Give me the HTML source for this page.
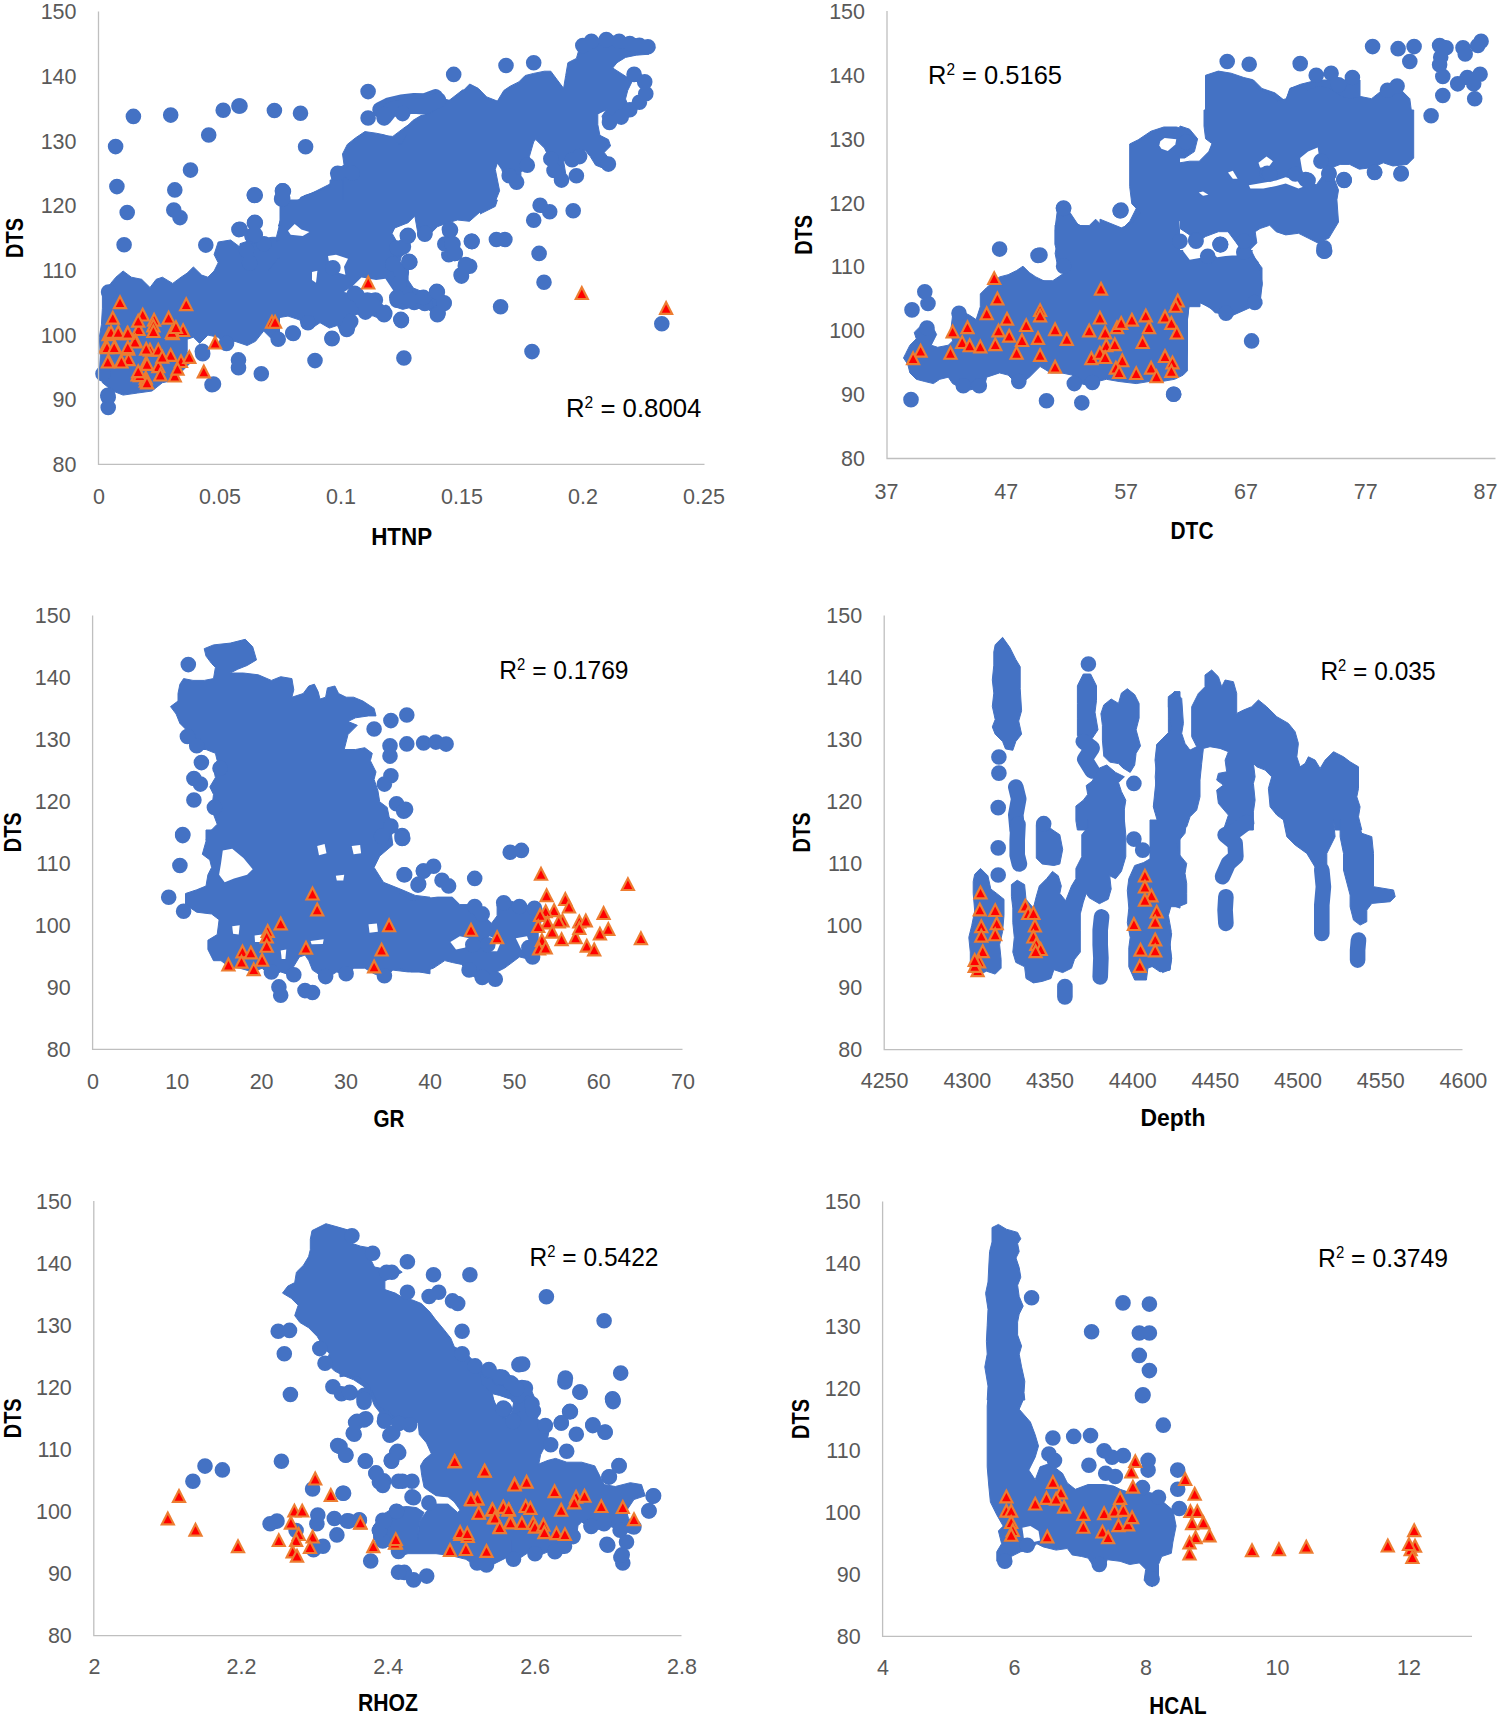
<!DOCTYPE html>
<html><head><meta charset="utf-8"><style>
html,body{margin:0;padding:0;background:#fff;}
svg{display:block;}
.t{font-family:"Liberation Sans",sans-serif;font-size:21.5px;fill:#595959;}
.b{font-family:"Liberation Sans",sans-serif;font-size:23px;font-weight:bold;fill:#000;}
.r{font-family:"Liberation Sans",sans-serif;font-size:26.5px;fill:#000;}
.sup{font-size:16px;}
</style></head><body>
<svg width="1499" height="1716" viewBox="0 0 1499 1716">
<rect width="1499" height="1716" fill="#fff"/>
<path d="M380 135.3L392.8 136.4L405.6 126.7L422.7 117.1L435.5 105.4L444 99L452.6 101.1L463.3 90.5L469.7 84L478.2 88.3L486.7 96.9L497.4 101.1L503.8 90.5L510.2 86.2L518.8 81.9L525.2 75.5L533.7 73.4L544.4 71.2L550.8 71.2L557.2 79.8L563.6 88.3L565.7 75.5L567.9 62.7L576.4 58.4L580.7 43.5L587.1 39.2L595.6 41.3L604.2 37.1L610.6 34.9L621.2 39.2L636.2 41.3L649 43.5L655.4 47.8L649 54.2L636.2 55.2L625.5 57.4L617 62.7L612.7 68L621.2 73.4L627.7 77.6L631.9 81.9L627.7 90.5L625.5 99L629.8 109.7L627.7 118.2L617 122.5L610.6 126.7L604.2 124.6L602 116.1L606.3 109.7L597.8 113.9L597.8 124.6L599.9 135.3L608.4 139.6L610.6 146L604.2 152.4L610.6 160.9L606.3 169.4L595.6 165.2L590.3 156.6L585 150.2L580.7 158.8L572.1 160.9L563.6 160.9L565.7 173.7L565.7 182.3L559.3 184.4L550.8 173.7L546.5 160.9L546.5 152.4L544.4 148.1L535.8 139.6L533.7 141.7L529.4 156.6L531.6 165.2L527.3 169.4L520.9 171.6L520.9 182.3L512.4 184.4L503.8 175.8L501.7 169.4L497.4 163L495.3 169.4L499.6 190.8L495.3 201.5L488.9 207.9L478.2 212.1L471.8 220.7L459 222.8L452.6 225L446.2 233.5L444 260L380 260Z" fill="#4472C4" stroke="#4472C4" stroke-width="1" stroke-linejoin="round"/>
<path d="M380 109.7L388.5 105.4L401.3 102.2L414.2 100.7L424.8 101.1L435.5 96.9" fill="none" stroke="#4472C4" stroke-width="15.6" stroke-linecap="round" stroke-linejoin="round"/>
<path d="M102.4 292.7L110.7 283.4L115.9 277.2L123.1 271L131.4 277.2L141.7 279.3L150 287.5L156.2 279.3L162.4 277.2L172.7 283.4L181 277.2L187.2 273.1L193.4 266.9L201.7 275.1L207.9 277.2L214.1 271L218.2 262.7L214.1 254.5L218.2 242L230.6 240L238.9 246.2L245.1 246.2L251.3 240L261.7 242L269.9 240L278.2 242L282.3 231.7L280.3 221.4L288.6 211L296.8 200.7L329.9 184.1L332 180L400 180L400 295.8L389.9 312.4L379.6 306.2L367.1 302L356.8 295.8L348.5 304.1L350.6 324.8L346.5 333.1L334.1 324.8L317.5 322.7L305.1 324.8L296.8 333.1L282.3 341.3L272 339.3L263.7 331L255.5 341.3L247.2 345.5L234.8 341.3L226.5 347.5L218.2 337.2L207.9 335.1L199.6 343.4L193.4 337.2L187.2 339.3L187.2 351.7L191.3 362L181 372.3L172.7 380.6L162.4 382.7L152 391L137.6 393L123.1 395.1L112.8 391L102.4 382.7L99.3 372.3L100.3 355.8L99.3 337.2L101.4 324.8L102.4 308.2Z" fill="#4472C4" stroke="#4472C4" stroke-width="1" stroke-linejoin="round"/>
<path d="M286.4 227.7L278.4 226.1L283.2 211.7L288 206.9L297.6 202.1L304 195.7L315.2 192.5L326.5 189.3L332.9 186.1L331.3 176.5L337.7 168.5L344.1 165.2L342.5 154L347.3 144.4L355.3 138L364.9 131.6L376.1 133.2L384.1 134.8L393.7 138L398.5 144.4L401.7 144.4L406.5 134.8L406.5 126.8L412.9 120.4L420.9 115.6L428.9 114L436.9 109.2L441.7 102.8L448.1 101.2L462.5 90L480 90L480 211.7L472.1 219.7L462.5 221.3L454.5 218.1L446.5 214.9L438.5 219.7L435.3 229.3L427.3 238.9L417.7 234.1L414.5 216.5L409.7 221.3L398.5 227.7L392.1 232.5L388.9 238.9L396.9 242.1L403.3 248.5L400.1 254.9L393.7 259.7L396.9 270L364.9 270L363.3 256.5L352.1 258.1L342.5 270L329.7 270L326.5 256.5L320.1 254.9L307.2 253.3L288 253.3L278.4 258.1L268.8 270L240 270L240 243.7L249.6 240.5L256 243.7L262.4 238.9L272 237.3L281.6 237.3L289.6 235.7L292.8 230.9L300.8 230.9L308.8 232.5L310.4 229.3L297.6 222.9L291.2 221.3Z" fill="#4472C4" stroke="#4472C4" stroke-width="1" stroke-linejoin="round"/>
<path d="M384.1 117.9L390.5 109.9L400.1 107.5L412.9 105.9L424.1 106.7L432.1 102.6L438.5 100.2" fill="none" stroke="#4472C4" stroke-width="15.6" stroke-linecap="round" stroke-linejoin="round"/>
<path d="M380 200L497.4 200L495.3 206.4L482.5 212.8L469.7 219.2L456.9 221.3L444 221.3L437.6 227.8L431.2 236.3L422.7 238.4L416.3 227.8L407.8 227.8L397.1 229.9L392.8 238.4L388.5 249.1L380 270.5Z" fill="#4472C4" stroke="#4472C4" stroke-width="1" stroke-linejoin="round"/>
<path d="M446.2 225.6L450.5 236.3L453.7 249.1L456.9 259.8L465.4 266.2" fill="none" stroke="#4472C4" stroke-width="15.6" stroke-linecap="round" stroke-linejoin="round"/>
<path d="M380 264L392.8 264L401.3 272.6L399.2 283.3L401.3 293.9L397.1 300.3L414.2 302.5L424.8 303.5L444 303.5" fill="none" stroke="#4472C4" stroke-width="15.6" stroke-linecap="round" stroke-linejoin="round"/>
<path d="M300.7 330L303.4 321.4L316.7 318.8L335.4 321.4L348.7 313.4L356.7 313.4L356.7 330Z" fill="#4472C4" stroke="#4472C4" stroke-width="1" stroke-linejoin="round"/>
<path d="M276.7 236L280.7 220L284.7 209.4L296.7 205.4L300.7 197.3L312.7 192.7L330.1 187.3L330.1 180L343.4 180L343.4 220L276.7 241.4Z" fill="#4472C4" stroke="#4472C4" stroke-width="1" stroke-linejoin="round"/>
<path d="M415.4 218.7L418.1 234.7L424.8 240L435.5 237.4L440.8 224L450 224L450 296.1L439.5 289.4L430.1 286.7L420.8 292.1L410.1 284.1L407.4 270.7L398.1 265.4L402.1 254.7L403.4 246.7L392.8 238.7L394.1 230.7L402.1 228L410.1 217.4Z" fill="#fff"/>
<path d="M327.4 256.1L346.1 254.7L348.7 262.7L344.7 273.4L338.1 273.4L332.7 265.4Z" fill="#fff"/>
<path d="M343.4 292.1L354.1 286.7L363.4 277.4L376.8 280.1L390.1 285.4L394.1 293.4L388.8 304.1L380.8 306.8L370.1 297.4L356.7 294.7Z" fill="#fff"/>
<path d="M288.7 224L294 221.4L300.7 229.4L308.7 232L306 236L294 236L288.7 234.7Z" fill="#fff"/>
<path d="M280 200L480 200L480 350L280 350Z" fill="#fff"/>
<path d="M280 200L480 200L480 212L469.5 221.3L457.5 220L448.1 222.7L437.4 226.7L426.8 237.4L417.4 230.7L414.8 216L408.1 222.7L394.7 228L392.1 233.4L397.4 242.7L402.7 250.7L400.1 261.4L408.1 269.4L408.1 280.1L413.4 288.1L426.8 293.4L437.4 290.7L445.4 296.1L449.4 304.1L444.1 312.1L437.4 318.7L432.1 312.1L424.1 306.7L413.4 306.7L402.7 309.4L394.7 306.7L389.4 301.4L393.4 290.7L385.4 281.4L377.4 282.7L381.4 293.4L378.7 301.4L389.4 306.7L390.7 314.7L384.1 320.1L373.4 316.1L362.7 313.4L354.7 314.7L356.1 322.7L353.4 333.4L346.7 336.1L340 330.8L337.4 325.4L329.4 328.1L320 322.7L312 328.1L302.7 328.1L300 320.1L288 316.1L280 317.4Z" fill="#4472C4" stroke="#4472C4" stroke-width="1" stroke-linejoin="round"/>
<path d="M344 292.1L352 286.7L361.4 277.4L376.1 280.1L385.4 278.7L393.4 290.7L390.7 301.4L384.1 305.4L376.1 298.7L362.7 297.4L352 293.4Z" fill="#fff"/>
<path d="M288 230.7L294.7 224L301.3 229.4L309.4 232L302.7 236L290.7 234.7Z" fill="#fff"/>
<path d="M328 256L336 254.7L348 258.7L344 266.7L345.4 274.7L336 272L329.4 264Z" fill="#fff"/>
<path d="M312 272L317.4 270.7L316 282.7L312 280.1Z" fill="#fff"/>
<path d="M626.3 74.4a7.8 7.8 0 1 0 15.6 0a7.8 7.8 0 1 0 -15.6 0M636.9 81.9a7.8 7.8 0 1 0 15.6 0a7.8 7.8 0 1 0 -15.6 0M638 93.7a7.8 7.8 0 1 0 15.6 0a7.8 7.8 0 1 0 -15.6 0M631.6 102.2a7.8 7.8 0 1 0 15.6 0a7.8 7.8 0 1 0 -15.6 0M622 109.7a7.8 7.8 0 1 0 15.6 0a7.8 7.8 0 1 0 -15.6 0M613.4 117.1a7.8 7.8 0 1 0 15.6 0a7.8 7.8 0 1 0 -15.6 0M601.7 122.5a7.8 7.8 0 1 0 15.6 0a7.8 7.8 0 1 0 -15.6 0M445.9 74.4a7.8 7.8 0 1 0 15.6 0a7.8 7.8 0 1 0 -15.6 0M498.2 65.5a7.8 7.8 0 1 0 15.6 0a7.8 7.8 0 1 0 -15.6 0M525.9 62.7a7.8 7.8 0 1 0 15.6 0a7.8 7.8 0 1 0 -15.6 0M600.6 164.1a7.8 7.8 0 1 0 15.6 0a7.8 7.8 0 1 0 -15.6 0M568.6 175.8a7.8 7.8 0 1 0 15.6 0a7.8 7.8 0 1 0 -15.6 0M553.7 180.1a7.8 7.8 0 1 0 15.6 0a7.8 7.8 0 1 0 -15.6 0M546.2 170.5a7.8 7.8 0 1 0 15.6 0a7.8 7.8 0 1 0 -15.6 0M543 158.8a7.8 7.8 0 1 0 15.6 0a7.8 7.8 0 1 0 -15.6 0M564.3 159.8a7.8 7.8 0 1 0 15.6 0a7.8 7.8 0 1 0 -15.6 0M571.8 156.6a7.8 7.8 0 1 0 15.6 0a7.8 7.8 0 1 0 -15.6 0M508.8 182.3a7.8 7.8 0 1 0 15.6 0a7.8 7.8 0 1 0 -15.6 0M501.4 175.8a7.8 7.8 0 1 0 15.6 0a7.8 7.8 0 1 0 -15.6 0M519.5 165.2a7.8 7.8 0 1 0 15.6 0a7.8 7.8 0 1 0 -15.6 0" fill="#4472C4"/>
<path d="M109.1 186.6a7.8 7.8 0 1 0 15.6 0a7.8 7.8 0 1 0 -15.6 0M167 189.9a7.8 7.8 0 1 0 15.6 0a7.8 7.8 0 1 0 -15.6 0M119.4 212.5a7.8 7.8 0 1 0 15.6 0a7.8 7.8 0 1 0 -15.6 0M246.6 195.5a7.8 7.8 0 1 0 15.6 0a7.8 7.8 0 1 0 -15.6 0M275.6 191.4a7.8 7.8 0 1 0 15.6 0a7.8 7.8 0 1 0 -15.6 0M274.5 197.6a7.8 7.8 0 1 0 15.6 0a7.8 7.8 0 1 0 -15.6 0M166 210a7.8 7.8 0 1 0 15.6 0a7.8 7.8 0 1 0 -15.6 0M172.2 217.6a7.8 7.8 0 1 0 15.6 0a7.8 7.8 0 1 0 -15.6 0M116.3 244.7a7.8 7.8 0 1 0 15.6 0a7.8 7.8 0 1 0 -15.6 0M231.1 229.6a7.8 7.8 0 1 0 15.6 0a7.8 7.8 0 1 0 -15.6 0M247 222.4a7.8 7.8 0 1 0 15.6 0a7.8 7.8 0 1 0 -15.6 0M244.6 236.3a7.8 7.8 0 1 0 15.6 0a7.8 7.8 0 1 0 -15.6 0M198 245.1a7.8 7.8 0 1 0 15.6 0a7.8 7.8 0 1 0 -15.6 0M307.2 360.6a7.8 7.8 0 1 0 15.6 0a7.8 7.8 0 1 0 -15.6 0M253.5 373.8a7.8 7.8 0 1 0 15.6 0a7.8 7.8 0 1 0 -15.6 0M230.7 359.9a7.8 7.8 0 1 0 15.6 0a7.8 7.8 0 1 0 -15.6 0M230.7 367.8a7.8 7.8 0 1 0 15.6 0a7.8 7.8 0 1 0 -15.6 0M204.2 384.8a7.8 7.8 0 1 0 15.6 0a7.8 7.8 0 1 0 -15.6 0M324.2 338.2a7.8 7.8 0 1 0 15.6 0a7.8 7.8 0 1 0 -15.6 0M194.9 353.7a7.8 7.8 0 1 0 15.6 0a7.8 7.8 0 1 0 -15.6 0M100.4 397.2a7.8 7.8 0 1 0 15.6 0a7.8 7.8 0 1 0 -15.6 0M100.4 407.5a7.8 7.8 0 1 0 15.6 0a7.8 7.8 0 1 0 -15.6 0M284.9 333.1a7.8 7.8 0 1 0 15.6 0a7.8 7.8 0 1 0 -15.6 0M270.4 339.3a7.8 7.8 0 1 0 15.6 0a7.8 7.8 0 1 0 -15.6 0M218.7 343.4a7.8 7.8 0 1 0 15.6 0a7.8 7.8 0 1 0 -15.6 0" fill="#4472C4"/>
<path d="M394.8 113.6a7.8 7.8 0 1 0 15.6 0a7.8 7.8 0 1 0 -15.6 0M376.2 114.5a7.8 7.8 0 1 0 15.6 0a7.8 7.8 0 1 0 -15.6 0" fill="#4472C4"/>
<path d="M232.2 106a7.8 7.8 0 1 0 15.6 0a7.8 7.8 0 1 0 -15.6 0M266.6 110.5a7.8 7.8 0 1 0 15.6 0a7.8 7.8 0 1 0 -15.6 0M292.7 113.2a7.8 7.8 0 1 0 15.6 0a7.8 7.8 0 1 0 -15.6 0M297.8 146.8a7.8 7.8 0 1 0 15.6 0a7.8 7.8 0 1 0 -15.6 0M360.3 91.6a7.8 7.8 0 1 0 15.6 0a7.8 7.8 0 1 0 -15.6 0M360.3 118a7.8 7.8 0 1 0 15.6 0a7.8 7.8 0 1 0 -15.6 0M246.6 194.9a7.8 7.8 0 1 0 15.6 0a7.8 7.8 0 1 0 -15.6 0M274.6 190.9a7.8 7.8 0 1 0 15.6 0a7.8 7.8 0 1 0 -15.6 0M273.8 198.9a7.8 7.8 0 1 0 15.6 0a7.8 7.8 0 1 0 -15.6 0M399.5 235.7a7.8 7.8 0 1 0 15.6 0a7.8 7.8 0 1 0 -15.6 0M463.5 241.3a7.8 7.8 0 1 0 15.6 0a7.8 7.8 0 1 0 -15.6 0M441.9 230.9a7.8 7.8 0 1 0 15.6 0a7.8 7.8 0 1 0 -15.6 0M445.1 243.7a7.8 7.8 0 1 0 15.6 0a7.8 7.8 0 1 0 -15.6 0M447.5 253.3a7.8 7.8 0 1 0 15.6 0a7.8 7.8 0 1 0 -15.6 0M457.9 264.5a7.8 7.8 0 1 0 15.6 0a7.8 7.8 0 1 0 -15.6 0M401.1 261.3a7.8 7.8 0 1 0 15.6 0a7.8 7.8 0 1 0 -15.6 0M325.1 267.7a7.8 7.8 0 1 0 15.6 0a7.8 7.8 0 1 0 -15.6 0M232.2 229.3a7.8 7.8 0 1 0 15.6 0a7.8 7.8 0 1 0 -15.6 0M246.6 222.9a7.8 7.8 0 1 0 15.6 0a7.8 7.8 0 1 0 -15.6 0M244.2 235.7a7.8 7.8 0 1 0 15.6 0a7.8 7.8 0 1 0 -15.6 0M256.2 243.7a7.8 7.8 0 1 0 15.6 0a7.8 7.8 0 1 0 -15.6 0M238.6 250.1a7.8 7.8 0 1 0 15.6 0a7.8 7.8 0 1 0 -15.6 0M241.8 262.9a7.8 7.8 0 1 0 15.6 0a7.8 7.8 0 1 0 -15.6 0M329.9 173.3a7.8 7.8 0 1 0 15.6 0a7.8 7.8 0 1 0 -15.6 0M344.3 173.3a7.8 7.8 0 1 0 15.6 0a7.8 7.8 0 1 0 -15.6 0" fill="#4472C4"/>
<path d="M400 236.3a7.8 7.8 0 1 0 15.6 0a7.8 7.8 0 1 0 -15.6 0M417 234.2a7.8 7.8 0 1 0 15.6 0a7.8 7.8 0 1 0 -15.6 0M442.7 229.9a7.8 7.8 0 1 0 15.6 0a7.8 7.8 0 1 0 -15.6 0M444.8 244.8a7.8 7.8 0 1 0 15.6 0a7.8 7.8 0 1 0 -15.6 0M446.9 253.4a7.8 7.8 0 1 0 15.6 0a7.8 7.8 0 1 0 -15.6 0M453.3 274.7a7.8 7.8 0 1 0 15.6 0a7.8 7.8 0 1 0 -15.6 0M457.6 266.2a7.8 7.8 0 1 0 15.6 0a7.8 7.8 0 1 0 -15.6 0M461.9 266.2a7.8 7.8 0 1 0 15.6 0a7.8 7.8 0 1 0 -15.6 0M464 241.6a7.8 7.8 0 1 0 15.6 0a7.8 7.8 0 1 0 -15.6 0M488.6 239.5a7.8 7.8 0 1 0 15.6 0a7.8 7.8 0 1 0 -15.6 0M497.1 239.5a7.8 7.8 0 1 0 15.6 0a7.8 7.8 0 1 0 -15.6 0M525.9 220.3a7.8 7.8 0 1 0 15.6 0a7.8 7.8 0 1 0 -15.6 0M532.3 205.3a7.8 7.8 0 1 0 15.6 0a7.8 7.8 0 1 0 -15.6 0M541.9 211.7a7.8 7.8 0 1 0 15.6 0a7.8 7.8 0 1 0 -15.6 0M565.4 210.7a7.8 7.8 0 1 0 15.6 0a7.8 7.8 0 1 0 -15.6 0M531.3 253.4a7.8 7.8 0 1 0 15.6 0a7.8 7.8 0 1 0 -15.6 0M536.2 282.2a7.8 7.8 0 1 0 15.6 0a7.8 7.8 0 1 0 -15.6 0M492.8 306.7a7.8 7.8 0 1 0 15.6 0a7.8 7.8 0 1 0 -15.6 0M524.2 351.6a7.8 7.8 0 1 0 15.6 0a7.8 7.8 0 1 0 -15.6 0M654 323.8a7.8 7.8 0 1 0 15.6 0a7.8 7.8 0 1 0 -15.6 0M396.1 358a7.8 7.8 0 1 0 15.6 0a7.8 7.8 0 1 0 -15.6 0M393.5 320.6a7.8 7.8 0 1 0 15.6 0a7.8 7.8 0 1 0 -15.6 0M376.5 313.2a7.8 7.8 0 1 0 15.6 0a7.8 7.8 0 1 0 -15.6 0M429.8 313.2a7.8 7.8 0 1 0 15.6 0a7.8 7.8 0 1 0 -15.6 0M428.8 291.8a7.8 7.8 0 1 0 15.6 0a7.8 7.8 0 1 0 -15.6 0M436.2 303.5a7.8 7.8 0 1 0 15.6 0a7.8 7.8 0 1 0 -15.6 0M417 303.5a7.8 7.8 0 1 0 15.6 0a7.8 7.8 0 1 0 -15.6 0M406.4 302.5a7.8 7.8 0 1 0 15.6 0a7.8 7.8 0 1 0 -15.6 0M389.3 300.3a7.8 7.8 0 1 0 15.6 0a7.8 7.8 0 1 0 -15.6 0M397.8 293.9a7.8 7.8 0 1 0 15.6 0a7.8 7.8 0 1 0 -15.6 0M402.1 261.9a7.8 7.8 0 1 0 15.6 0a7.8 7.8 0 1 0 -15.6 0M391.4 249.1a7.8 7.8 0 1 0 15.6 0a7.8 7.8 0 1 0 -15.6 0M385 264a7.8 7.8 0 1 0 15.6 0a7.8 7.8 0 1 0 -15.6 0M393.5 272.6a7.8 7.8 0 1 0 15.6 0a7.8 7.8 0 1 0 -15.6 0M391.4 283.3a7.8 7.8 0 1 0 15.6 0a7.8 7.8 0 1 0 -15.6 0" fill="#4472C4"/>
<path d="M125.6 116.4a7.8 7.8 0 1 0 15.6 0a7.8 7.8 0 1 0 -15.6 0M162.9 115.1a7.8 7.8 0 1 0 15.6 0a7.8 7.8 0 1 0 -15.6 0M215.4 110.2a7.8 7.8 0 1 0 15.6 0a7.8 7.8 0 1 0 -15.6 0M231.1 106a7.8 7.8 0 1 0 15.6 0a7.8 7.8 0 1 0 -15.6 0M107.8 146.6a7.8 7.8 0 1 0 15.6 0a7.8 7.8 0 1 0 -15.6 0M200.9 135a7.8 7.8 0 1 0 15.6 0a7.8 7.8 0 1 0 -15.6 0M182.7 170.1a7.8 7.8 0 1 0 15.6 0a7.8 7.8 0 1 0 -15.6 0" fill="#4472C4"/>
<path d="M247.5 195.3a7.8 7.8 0 1 0 15.6 0a7.8 7.8 0 1 0 -15.6 0M274.9 190.7a7.8 7.8 0 1 0 15.6 0a7.8 7.8 0 1 0 -15.6 0M274.9 198.7a7.8 7.8 0 1 0 15.6 0a7.8 7.8 0 1 0 -15.6 0M247.5 222.7a7.8 7.8 0 1 0 15.6 0a7.8 7.8 0 1 0 -15.6 0M247.5 234.7a7.8 7.8 0 1 0 15.6 0a7.8 7.8 0 1 0 -15.6 0M400.3 235.4a7.8 7.8 0 1 0 15.6 0a7.8 7.8 0 1 0 -15.6 0M401.6 262.1a7.8 7.8 0 1 0 15.6 0a7.8 7.8 0 1 0 -15.6 0M417 233.4a7.8 7.8 0 1 0 15.6 0a7.8 7.8 0 1 0 -15.6 0M437 244a7.8 7.8 0 1 0 15.6 0a7.8 7.8 0 1 0 -15.6 0M441 254.7a7.8 7.8 0 1 0 15.6 0a7.8 7.8 0 1 0 -15.6 0M393 319.4a7.8 7.8 0 1 0 15.6 0a7.8 7.8 0 1 0 -15.6 0M429 291.4a7.8 7.8 0 1 0 15.6 0a7.8 7.8 0 1 0 -15.6 0M430.3 313.4a7.8 7.8 0 1 0 15.6 0a7.8 7.8 0 1 0 -15.6 0M377 313.4a7.8 7.8 0 1 0 15.6 0a7.8 7.8 0 1 0 -15.6 0M348.9 294.7a7.8 7.8 0 1 0 15.6 0a7.8 7.8 0 1 0 -15.6 0M359.6 300.1a7.8 7.8 0 1 0 15.6 0a7.8 7.8 0 1 0 -15.6 0M367.6 300.1a7.8 7.8 0 1 0 15.6 0a7.8 7.8 0 1 0 -15.6 0M395.6 246.7a7.8 7.8 0 1 0 15.6 0a7.8 7.8 0 1 0 -15.6 0M389 248a7.8 7.8 0 1 0 15.6 0a7.8 7.8 0 1 0 -15.6 0M415.6 297.4a7.8 7.8 0 1 0 15.6 0a7.8 7.8 0 1 0 -15.6 0M402.3 300.1a7.8 7.8 0 1 0 15.6 0a7.8 7.8 0 1 0 -15.6 0M389 297.4a7.8 7.8 0 1 0 15.6 0a7.8 7.8 0 1 0 -15.6 0" fill="#4472C4"/>
<path d="M400.3 236a7.8 7.8 0 1 0 15.6 0a7.8 7.8 0 1 0 -15.6 0M401.6 262a7.8 7.8 0 1 0 15.6 0a7.8 7.8 0 1 0 -15.6 0M441.6 229.4a7.8 7.8 0 1 0 15.6 0a7.8 7.8 0 1 0 -15.6 0M444.3 244a7.8 7.8 0 1 0 15.6 0a7.8 7.8 0 1 0 -15.6 0M447 253.4a7.8 7.8 0 1 0 15.6 0a7.8 7.8 0 1 0 -15.6 0M457.7 265.4a7.8 7.8 0 1 0 15.6 0a7.8 7.8 0 1 0 -15.6 0M453.7 276.1a7.8 7.8 0 1 0 15.6 0a7.8 7.8 0 1 0 -15.6 0M464.3 241.4a7.8 7.8 0 1 0 15.6 0a7.8 7.8 0 1 0 -15.6 0M429.6 292.1a7.8 7.8 0 1 0 15.6 0a7.8 7.8 0 1 0 -15.6 0M436.3 302.7a7.8 7.8 0 1 0 15.6 0a7.8 7.8 0 1 0 -15.6 0M429.6 314.7a7.8 7.8 0 1 0 15.6 0a7.8 7.8 0 1 0 -15.6 0M393.6 320.1a7.8 7.8 0 1 0 15.6 0a7.8 7.8 0 1 0 -15.6 0M324.2 338.8a7.8 7.8 0 1 0 15.6 0a7.8 7.8 0 1 0 -15.6 0M338.9 329.4a7.8 7.8 0 1 0 15.6 0a7.8 7.8 0 1 0 -15.6 0M342.9 321.4a7.8 7.8 0 1 0 15.6 0a7.8 7.8 0 1 0 -15.6 0M285.5 333.4a7.8 7.8 0 1 0 15.6 0a7.8 7.8 0 1 0 -15.6 0M300.2 322.7a7.8 7.8 0 1 0 15.6 0a7.8 7.8 0 1 0 -15.6 0M376.3 314.7a7.8 7.8 0 1 0 15.6 0a7.8 7.8 0 1 0 -15.6 0M357.6 312.1a7.8 7.8 0 1 0 15.6 0a7.8 7.8 0 1 0 -15.6 0M346.9 293.4a7.8 7.8 0 1 0 15.6 0a7.8 7.8 0 1 0 -15.6 0M354.9 301.4a7.8 7.8 0 1 0 15.6 0a7.8 7.8 0 1 0 -15.6 0M365.6 305.4a7.8 7.8 0 1 0 15.6 0a7.8 7.8 0 1 0 -15.6 0" fill="#4472C4"/>
<path d="M100.8 292a7.8 7.8 0 1 0 15.6 0a7.8 7.8 0 1 0 -15.6 0M194.5 351.3a7.8 7.8 0 1 0 15.6 0a7.8 7.8 0 1 0 -15.6 0M205.7 384.1a7.8 7.8 0 1 0 15.6 0a7.8 7.8 0 1 0 -15.6 0M100 395.3a7.8 7.8 0 1 0 15.6 0a7.8 7.8 0 1 0 -15.6 0M95.2 373.7a7.8 7.8 0 1 0 15.6 0a7.8 7.8 0 1 0 -15.6 0" fill="#4472C4"/>
<path d="M640.1 46.7a7.8 7.8 0 1 0 15.6 0a7.8 7.8 0 1 0 -15.6 0M631.6 45.2a7.8 7.8 0 1 0 15.6 0a7.8 7.8 0 1 0 -15.6 0M622 43.5a7.8 7.8 0 1 0 15.6 0a7.8 7.8 0 1 0 -15.6 0M611.3 41.3a7.8 7.8 0 1 0 15.6 0a7.8 7.8 0 1 0 -15.6 0M598.5 39.6a7.8 7.8 0 1 0 15.6 0a7.8 7.8 0 1 0 -15.6 0M583.6 41.3a7.8 7.8 0 1 0 15.6 0a7.8 7.8 0 1 0 -15.6 0M575 45.6a7.8 7.8 0 1 0 15.6 0a7.8 7.8 0 1 0 -15.6 0" fill="#4472C4"/>
<path d="M120 294L127.8 309.2L112.2 309.2Z" fill="#ED7D31"/><path d="M120 298.7L124.3 307L115.7 307Z" fill="#FF0000"/>
<path d="M186.2 296L194 311.2L178.4 311.2Z" fill="#ED7D31"/><path d="M186.2 300.7L190.5 309.1L181.9 309.1Z" fill="#FF0000"/>
<path d="M368.2 274.3L376 289.5L360.4 289.5Z" fill="#ED7D31"/><path d="M368.2 279L372.5 287.4L363.9 287.4Z" fill="#FF0000"/>
<path d="M272 313.6L279.8 328.8L264.2 328.8Z" fill="#ED7D31"/><path d="M272 318.3L276.3 326.7L267.7 326.7Z" fill="#FF0000"/>
<path d="M275.1 313.6L282.9 328.8L267.3 328.8Z" fill="#ED7D31"/><path d="M275.1 318.3L279.4 326.7L270.8 326.7Z" fill="#FF0000"/>
<path d="M215.1 334.3L222.9 349.5L207.3 349.5Z" fill="#ED7D31"/><path d="M215.1 339L219.4 347.4L210.8 347.4Z" fill="#FF0000"/>
<path d="M203.8 363.2L211.6 378.4L196 378.4Z" fill="#ED7D31"/><path d="M203.8 368L208 376.3L199.5 376.3Z" fill="#FF0000"/>
<path d="M112.8 309.5L120.6 324.7L105 324.7Z" fill="#ED7D31"/><path d="M112.8 314.2L117 322.5L108.5 322.5Z" fill="#FF0000"/>
<path d="M142.7 306.4L150.5 321.6L134.9 321.6Z" fill="#ED7D31"/><path d="M142.7 311.1L147 319.4L138.5 319.4Z" fill="#FF0000"/>
<path d="M154.1 311.5L161.9 326.7L146.3 326.7Z" fill="#ED7D31"/><path d="M154.1 316.2L158.4 324.6L149.8 324.6Z" fill="#FF0000"/>
<path d="M168.6 309.5L176.4 324.7L160.8 324.7Z" fill="#ED7D31"/><path d="M168.6 314.2L172.9 322.5L164.3 322.5Z" fill="#FF0000"/>
<path d="M138.6 320.8L146.4 336L130.8 336Z" fill="#ED7D31"/><path d="M138.6 325.6L142.9 333.9L134.3 333.9Z" fill="#FF0000"/>
<path d="M119 325L126.8 340.2L111.2 340.2Z" fill="#ED7D31"/><path d="M119 329.7L123.2 338.1L114.7 338.1Z" fill="#FF0000"/>
<path d="M127.2 325L135 340.2L119.4 340.2Z" fill="#ED7D31"/><path d="M127.2 329.7L131.5 338.1L122.9 338.1Z" fill="#FF0000"/>
<path d="M108.6 326L116.4 341.2L100.8 341.2Z" fill="#ED7D31"/><path d="M108.6 330.7L112.9 339.1L104.3 339.1Z" fill="#FF0000"/>
<path d="M172.7 325L180.5 340.2L164.9 340.2Z" fill="#ED7D31"/><path d="M172.7 329.7L177 338.1L168.4 338.1Z" fill="#FF0000"/>
<path d="M183.1 321.9L190.9 337.1L175.3 337.1Z" fill="#ED7D31"/><path d="M183.1 326.6L187.4 334.9L178.8 334.9Z" fill="#FF0000"/>
<path d="M105.5 338.4L113.3 353.6L97.7 353.6Z" fill="#ED7D31"/><path d="M105.5 343.1L109.8 351.5L101.2 351.5Z" fill="#FF0000"/>
<path d="M114.8 338.4L122.6 353.6L107 353.6Z" fill="#ED7D31"/><path d="M114.8 343.1L119.1 351.5L110.5 351.5Z" fill="#FF0000"/>
<path d="M128.3 340.5L136.1 355.7L120.5 355.7Z" fill="#ED7D31"/><path d="M128.3 345.2L132.6 353.6L124 353.6Z" fill="#FF0000"/>
<path d="M135.5 332.2L143.3 347.4L127.7 347.4Z" fill="#ED7D31"/><path d="M135.5 336.9L139.8 345.3L131.2 345.3Z" fill="#FF0000"/>
<path d="M150 341.5L157.8 356.7L142.2 356.7Z" fill="#ED7D31"/><path d="M150 346.2L154.3 354.6L145.7 354.6Z" fill="#FF0000"/>
<path d="M158.3 341.5L166.1 356.7L150.5 356.7Z" fill="#ED7D31"/><path d="M158.3 346.2L162.5 354.6L154 354.6Z" fill="#FF0000"/>
<path d="M170.7 346.7L178.5 361.9L162.9 361.9Z" fill="#ED7D31"/><path d="M170.7 351.4L175 359.8L166.4 359.8Z" fill="#FF0000"/>
<path d="M181 352.9L188.8 368.1L173.2 368.1Z" fill="#ED7D31"/><path d="M181 357.6L185.3 366L176.7 366Z" fill="#FF0000"/>
<path d="M189.3 348.8L197.1 364L181.5 364Z" fill="#ED7D31"/><path d="M189.3 353.5L193.6 361.8L185 361.8Z" fill="#FF0000"/>
<path d="M108.6 352.9L116.4 368.1L100.8 368.1Z" fill="#ED7D31"/><path d="M108.6 357.6L112.9 366L104.3 366Z" fill="#FF0000"/>
<path d="M121 352.9L128.8 368.1L113.2 368.1Z" fill="#ED7D31"/><path d="M121 357.6L125.3 366L116.7 366Z" fill="#FF0000"/>
<path d="M145.8 355L153.6 370.2L138 370.2Z" fill="#ED7D31"/><path d="M145.8 359.7L150.1 368L141.6 368Z" fill="#FF0000"/>
<path d="M158.3 358.1L166.1 373.3L150.5 373.3Z" fill="#ED7D31"/><path d="M158.3 362.8L162.5 371.1L154 371.1Z" fill="#FF0000"/>
<path d="M137.6 366.3L145.4 381.5L129.8 381.5Z" fill="#ED7D31"/><path d="M137.6 371.1L141.9 379.4L133.3 379.4Z" fill="#FF0000"/>
<path d="M145.8 369.5L153.6 384.7L138 384.7Z" fill="#ED7D31"/><path d="M145.8 374.2L150.1 382.5L141.6 382.5Z" fill="#FF0000"/>
<path d="M160.3 366.3L168.1 381.5L152.5 381.5Z" fill="#ED7D31"/><path d="M160.3 371.1L164.6 379.4L156 379.4Z" fill="#FF0000"/>
<path d="M174.8 367.4L182.6 382.6L167 382.6Z" fill="#ED7D31"/><path d="M174.8 372.1L179.1 380.5L170.5 380.5Z" fill="#FF0000"/>
<path d="M145.8 372.6L153.6 387.8L138 387.8Z" fill="#ED7D31"/><path d="M145.8 377.3L150.1 385.6L141.6 385.6Z" fill="#FF0000"/>
<path d="M581.8 284.8L589.6 300L574 300Z" fill="#ED7D31"/><path d="M581.8 289.5L586 297.9L577.5 297.9Z" fill="#FF0000"/>
<path d="M666.1 299.8L673.9 315L658.3 315Z" fill="#ED7D31"/><path d="M666.1 304.5L670.4 312.8L661.8 312.8Z" fill="#FF0000"/>
<path d="M138.2 312.5L146 327.7L130.4 327.7Z" fill="#ED7D31"/><path d="M138.2 317.2L142.5 325.6L133.9 325.6Z" fill="#FF0000"/>
<path d="M153.4 317.3L161.2 332.5L145.6 332.5Z" fill="#ED7D31"/><path d="M153.4 322L157.7 330.4L149.2 330.4Z" fill="#FF0000"/>
<path d="M153.4 322.9L161.2 338.1L145.6 338.1Z" fill="#ED7D31"/><path d="M153.4 327.6L157.7 336L149.2 336Z" fill="#FF0000"/>
<path d="M111 323.7L118.8 338.9L103.2 338.9Z" fill="#ED7D31"/><path d="M111 328.4L115.3 336.8L106.7 336.8Z" fill="#FF0000"/>
<path d="M107 339L114.8 354.2L99.2 354.2Z" fill="#ED7D31"/><path d="M107 343.7L111.3 352L102.7 352Z" fill="#FF0000"/>
<path d="M135 333.3L142.8 348.5L127.2 348.5Z" fill="#ED7D31"/><path d="M135 338.1L139.3 346.4L130.7 346.4Z" fill="#FF0000"/>
<path d="M146.2 340.6L154 355.8L138.4 355.8Z" fill="#ED7D31"/><path d="M146.2 345.3L150.5 353.6L142 353.6Z" fill="#FF0000"/>
<path d="M128.6 351L136.4 366.2L120.8 366.2Z" fill="#ED7D31"/><path d="M128.6 355.7L132.9 364L124.3 364Z" fill="#FF0000"/>
<path d="M139.8 367L147.6 382.2L132 382.2Z" fill="#ED7D31"/><path d="M139.8 371.7L144.1 380L135.5 380Z" fill="#FF0000"/>
<path d="M147 374.2L154.8 389.4L139.2 389.4Z" fill="#ED7D31"/><path d="M147 378.9L151.3 387.2L142.8 387.2Z" fill="#FF0000"/>
<path d="M177.5 360.6L185.3 375.8L169.7 375.8Z" fill="#ED7D31"/><path d="M177.5 365.3L181.8 373.6L173.2 373.6Z" fill="#FF0000"/>
<path d="M162.3 348.6L170.1 363.8L154.5 363.8Z" fill="#ED7D31"/><path d="M162.3 353.3L166.5 361.6L158 361.6Z" fill="#FF0000"/>
<path d="M147 355.8L154.8 371L139.2 371Z" fill="#ED7D31"/><path d="M147 360.5L151.3 368.8L142.8 368.8Z" fill="#FF0000"/>
<path d="M138.2 363L146 378.2L130.4 378.2Z" fill="#ED7D31"/><path d="M138.2 367.7L142.5 376L133.9 376Z" fill="#FF0000"/>
<path d="M118.2 323.7L126 338.9L110.4 338.9Z" fill="#ED7D31"/><path d="M118.2 328.4L122.5 336.8L113.9 336.8Z" fill="#FF0000"/>
<path d="M127.8 324.5L135.6 339.7L120 339.7Z" fill="#ED7D31"/><path d="M127.8 329.2L132.1 337.6L123.5 337.6Z" fill="#FF0000"/>
<path d="M114.2 339L122 354.2L106.4 354.2Z" fill="#ED7D31"/><path d="M114.2 343.7L118.5 352L109.9 352Z" fill="#FF0000"/>
<path d="M127.8 339L135.6 354.2L120 354.2Z" fill="#ED7D31"/><path d="M127.8 343.7L132.1 352L123.5 352Z" fill="#FF0000"/>
<path d="M171.9 323.7L179.7 338.9L164.1 338.9Z" fill="#ED7D31"/><path d="M171.9 328.4L176.2 336.8L167.6 336.8Z" fill="#FF0000"/>
<path d="M175.9 318.9L183.7 334.1L168.1 334.1Z" fill="#ED7D31"/><path d="M175.9 323.6L180.2 332L171.6 332Z" fill="#FF0000"/>
<path d="M107.8 353.4L115.6 368.6L100 368.6Z" fill="#ED7D31"/><path d="M107.8 358.1L112.1 366.4L103.5 366.4Z" fill="#FF0000"/>
<path d="M121.4 353.4L129.2 368.6L113.6 368.6Z" fill="#ED7D31"/><path d="M121.4 358.1L125.7 366.4L117.1 366.4Z" fill="#FF0000"/>
<path d="M903.5 358L905.6 353.7L909.9 345.2L916.3 338.8L914.2 332.4L920.6 326L931.2 323.8L936.6 334.5L931.2 345.2L937.6 347.3L948.3 345.2L952.6 340.9L950.5 332.4L952.6 315.3L961.1 311L969.7 315.3L976.1 319.6L980.3 306.7L980.3 293.9L986.7 287.5L999.6 276.9L1008.1 274.7L1016.6 270.5L1023 266.2L1029.4 272.6L1035.8 276.9L1044.4 281.1L1052.9 283.3L1059.3 287.5L1065.7 281.1L1063.6 272.6L1057.2 264L1055.1 253.4L1057.2 242.7L1055.1 225.6L1061.5 212.8L1063.6 204.3L1072.1 221.3L1080.7 225.6L1089.2 225.6L1095.6 219.2L1106.3 229.9L1119.1 232L1129.8 221.3L1136.2 208.5L1131.9 200L1200 200L1200 306.7L1187.4 306.7L1187.4 319.6L1187.4 370.8L1183.2 375.1L1174.6 379.3L1161.8 381.5L1149 381.5L1136.2 383.6L1119.1 381.5L1106.3 379.3L1097.8 381.5L1089.2 385.7L1080.7 383.6L1072.1 375.1L1061.5 372.9L1050.8 372.9L1040.1 366.5L1029.4 377.2L1020.9 383.6L1014.5 381.5L1008.1 375.1L999.6 372.9L986.7 377.2L984.6 385.7L978.2 387.9L969.7 390L961.1 387.9L952.6 383.6L948.3 377.2L939.8 379.3L933.4 383.6L924.8 381.5L916.3 379.3L909.9 372.9L907.8 364.4Z" fill="#4472C4" stroke="#4472C4" stroke-width="1" stroke-linejoin="round"/>
<path d="M1054.9 229.4L1057.1 212.4L1063.5 203.8L1069.9 212.4L1078.4 225.2L1089.1 227.3L1095.5 220.9L1104 227.3L1116.9 231.6L1129.7 233.7L1138.2 227.3L1148.9 218.8L1155.3 212.4L1161.7 210.2L1163.8 201.7L1155.3 208.1L1140.3 212.4L1131.8 203.8L1129.7 186.7L1129.7 144L1138.2 139.8L1151 131.2L1163.8 127L1176.6 127L1189.4 131.2L1198 141.9L1193.7 150.5L1189.4 161.1L1198 163.3L1204.4 161.1L1208.7 150.5L1206.5 139.8L1205.5 80L1253.5 80L1262 88.5L1274.8 92.8L1285.5 101.3L1289.8 88.5L1300.5 84.3L1317.5 80L1360 80L1360 169.7L1349.6 165.4L1338.9 169.7L1334.6 165.4L1323.9 163.3L1317.5 156.9L1313.3 150.5L1306.9 156.9L1306.9 169.7L1313.3 173.9L1321.8 173.9L1328.2 169.7L1336.8 173.9L1345.3 178.2L1343.2 186.7L1336.8 193.2L1336.8 208.1L1338.9 218.8L1332.5 229.4L1323.9 238L1313.3 240.1L1304.7 233.7L1296.2 233.7L1279.1 233.7L1266.3 229.4L1255.6 229.4L1251.4 238L1245 246.5L1251.4 250.8L1255.6 259.3L1262 267.9L1262 285L1259.9 295.6L1262 304.2L1253.5 306.3L1242.8 308.4L1230 314.8L1215.1 312.7L1208.7 306.3L1198 302L1189.4 302L1187.3 320L1040 320L1040 280.7L1052.8 280.7L1065.6 272.1L1059.2 259.3L1054.9 244.4Z" fill="#4472C4" stroke="#4472C4" stroke-width="1" stroke-linejoin="round"/>
<path d="M1205.5 75.3L1218.3 71.1L1231.1 73.2L1243.8 77.5L1252.4 79.6L1256.6 88.1L1269.4 94.5L1277.9 100.9L1286.4 98.7L1290.7 88.1L1299.2 86L1307.7 90.2L1318.3 86L1329 88.1L1341.7 96.6L1350.2 98.7L1360.9 96.6L1371.5 98.7L1382.2 90.2L1392.8 86L1401.3 90.2L1409.8 98.7L1412 115.8L1412 137L1414.1 156.2L1407.7 169L1401.3 175.4L1392.8 166.8L1382.2 164.7L1373.7 173.2L1365.1 169L1354.5 164.7L1337.5 164.7L1324.7 164.7L1316.2 160.5L1307.7 164.7L1301.3 166.8L1299.2 173.2L1294.9 169L1286.4 166.8L1282.1 169L1273.6 173.2L1267.3 177.5L1260.9 169L1258.7 160.5L1252.4 158.3L1243.8 158.3L1239.6 151.9L1231.1 151.9L1222.6 151.9L1216.2 143.4L1207.7 139.2L1205.5 122.1Z" fill="#4472C4" stroke="#4472C4" stroke-width="1" stroke-linejoin="round"/>
<path d="M1180 126.4L1192.8 134.9L1197 143.4L1192.8 154.1L1201.3 160.5L1209.8 151.9L1218.3 151.9L1228.9 156.2L1237.5 164.7L1243.8 169L1252.4 173.2L1260.9 175.4L1269.4 173.2L1280 169L1290.7 166.8L1303.4 169L1307.7 177.5L1318.3 173.2L1329 173.2L1337.5 181.7L1337.5 198.8L1338.5 220L1333.2 230.7L1326.8 239.2L1316.2 243.5L1303.4 234.9L1290.7 234.9L1275.8 230.7L1265.1 230.7L1256.6 228.6L1254.5 241.3L1250.2 258.3L1201.3 260.1L1192.8 245.6L1180 245.6Z" fill="#4472C4" stroke="#4472C4" stroke-width="1" stroke-linejoin="round"/>
<path d="M1100 219.2L1121.3 227.8L1132 223.5L1140.6 212.8L1132 200L1337 200L1338 219.2L1330.6 236.3L1317.8 243.8L1307.1 238.4L1287.9 234.2L1270.8 229.9L1258 227.8L1249.4 238.4L1247.3 249.1L1258 261.9L1262.3 283.3L1260.1 302.5L1247.3 308.9L1228.1 317.4L1215.3 311L1200.3 302.5L1189.7 300.3L1187.5 319.6L1187.5 349.4L1185.4 370.8L1181.1 375.1L1170.5 377.2L1161.9 381.5L1147 375.1L1136.3 379.3L1121.3 379.3L1108.5 377.2L1100 379.3Z" fill="#4472C4" stroke="#4472C4" stroke-width="1" stroke-linejoin="round"/>
<path d="M1206.5 248.7L1212.9 236.9L1225.7 233.7L1238.5 238L1242.8 248.7L1232.1 255.1L1217.2 257.2Z" fill="#fff"/>
<path d="M1179 221.3L1189.7 219.2L1200.3 229.9L1211 236.3L1228.1 236.3L1238.8 247L1236.6 255.5L1219.6 255.5L1202.5 257.6L1189.7 259.8L1183.3 251.2L1181.1 238.4Z" fill="#fff"/>
<path d="M1180 110L1420 110L1420 249.9L1180 249.9Z" fill="#fff"/>
<path d="M1204 110L1413.7 110L1413.7 158L1407.3 164.4L1392.9 166L1383.3 162.8L1372.1 167.6L1359.3 169.2L1349.7 164.4L1340.1 164.4L1332.1 167.6L1320.9 166L1316.1 158L1317.7 148.4L1308.1 153.2L1303.3 162.8L1304.9 174L1311.3 180.4L1316.1 185.2L1324.1 174L1333.7 177.2L1338.5 190.1L1336.9 199.7L1338.5 222.1L1333.7 230.1L1328.9 238.1L1317.7 242.9L1308.1 238.1L1298.5 233.3L1285.7 234.9L1276.1 231.7L1269.7 225.3L1260.1 228.5L1255.2 231.7L1256.8 242.9L1250.4 249.3L1237.6 244.5L1228 231.7L1218.4 231.7L1205.6 236.5L1196 242.9L1189.6 234.9L1180 228.5L1180 162.8L1189.6 161.2L1199.2 161.2L1208.8 151.6L1212 143.6L1205.6 138.8L1204 126Z" fill="#4472C4" stroke="#4472C4" stroke-width="1" stroke-linejoin="round"/>
<path d="M1180 126L1189.6 129.2L1197.6 138.8L1194.4 151.6L1184.8 158L1180 158Z" fill="#4472C4" stroke="#4472C4" stroke-width="1" stroke-linejoin="round"/>
<path d="M1248.8 185.2L1263.3 182.8L1276.1 180.4L1285.7 177.2L1296.9 180.4L1303.3 186.8L1298.5 188.5L1285.7 183.6L1276.1 186L1263.3 188.5L1250.4 188.5Z" fill="#fff"/>
<path d="M1300.1 158L1308.1 151.6L1317.7 147.6L1319.3 158L1316.1 169.2L1316.1 183.6L1308.1 182L1303.3 177.2L1301.7 167.6Z" fill="#fff"/>
<path d="M1258.5 162.8L1266.5 156.4L1272.9 161.2L1268.1 167.6L1260.1 167.6Z" fill="#fff"/>
<path d="M1228 172.4L1232.8 170.8L1237.6 178.8L1232.8 178.8Z" fill="#fff"/>
<path d="M1160.3 141.3L1164.6 138.1L1176.3 139.2L1175.3 144.5L1167.8 151L1161.4 148.8L1159.3 145.6Z" fill="#fff"/>
<path d="M1198.8 192.6L1203 191.5L1208.4 194.7L1203 195.8Z" fill="#fff"/>
<path d="M904.2 309.9a7.8 7.8 0 1 0 15.6 0a7.8 7.8 0 1 0 -15.6 0M917 291.8a7.8 7.8 0 1 0 15.6 0a7.8 7.8 0 1 0 -15.6 0M920.2 303.5a7.8 7.8 0 1 0 15.6 0a7.8 7.8 0 1 0 -15.6 0M991.8 249.1a7.8 7.8 0 1 0 15.6 0a7.8 7.8 0 1 0 -15.6 0M1030.2 255.5a7.8 7.8 0 1 0 15.6 0a7.8 7.8 0 1 0 -15.6 0M1055.8 208.5a7.8 7.8 0 1 0 15.6 0a7.8 7.8 0 1 0 -15.6 0M1112.4 210.7a7.8 7.8 0 1 0 15.6 0a7.8 7.8 0 1 0 -15.6 0M903.2 399.6a7.8 7.8 0 1 0 15.6 0a7.8 7.8 0 1 0 -15.6 0M1038.7 400.7a7.8 7.8 0 1 0 15.6 0a7.8 7.8 0 1 0 -15.6 0M1074 402.8a7.8 7.8 0 1 0 15.6 0a7.8 7.8 0 1 0 -15.6 0M1165.8 394.3a7.8 7.8 0 1 0 15.6 0a7.8 7.8 0 1 0 -15.6 0M1066.5 383.6a7.8 7.8 0 1 0 15.6 0a7.8 7.8 0 1 0 -15.6 0M1084.6 382.5a7.8 7.8 0 1 0 15.6 0a7.8 7.8 0 1 0 -15.6 0M971.5 385.7a7.8 7.8 0 1 0 15.6 0a7.8 7.8 0 1 0 -15.6 0M955.5 385.7a7.8 7.8 0 1 0 15.6 0a7.8 7.8 0 1 0 -15.6 0M1011 381.5a7.8 7.8 0 1 0 15.6 0a7.8 7.8 0 1 0 -15.6 0M1055.8 266.2a7.8 7.8 0 1 0 15.6 0a7.8 7.8 0 1 0 -15.6 0M951.2 313.2a7.8 7.8 0 1 0 15.6 0a7.8 7.8 0 1 0 -15.6 0M919.2 328.1a7.8 7.8 0 1 0 15.6 0a7.8 7.8 0 1 0 -15.6 0" fill="#4472C4"/>
<path d="M1055.7 208.1a7.8 7.8 0 1 0 15.6 0a7.8 7.8 0 1 0 -15.6 0M1113.3 210.2a7.8 7.8 0 1 0 15.6 0a7.8 7.8 0 1 0 -15.6 0M1212.6 244.4a7.8 7.8 0 1 0 15.6 0a7.8 7.8 0 1 0 -15.6 0M1316.1 250.8a7.8 7.8 0 1 0 15.6 0a7.8 7.8 0 1 0 -15.6 0M1336.4 180.3a7.8 7.8 0 1 0 15.6 0a7.8 7.8 0 1 0 -15.6 0M1032.2 255.1a7.8 7.8 0 1 0 15.6 0a7.8 7.8 0 1 0 -15.6 0M1188 240.1a7.8 7.8 0 1 0 15.6 0a7.8 7.8 0 1 0 -15.6 0" fill="#4472C4"/>
<path d="M1219.4 61.5a7.8 7.8 0 1 0 15.6 0a7.8 7.8 0 1 0 -15.6 0M1241.4 64.3a7.8 7.8 0 1 0 15.6 0a7.8 7.8 0 1 0 -15.6 0M1292.4 63.6a7.8 7.8 0 1 0 15.6 0a7.8 7.8 0 1 0 -15.6 0M1308.4 75.3a7.8 7.8 0 1 0 15.6 0a7.8 7.8 0 1 0 -15.6 0M1323.3 73.2a7.8 7.8 0 1 0 15.6 0a7.8 7.8 0 1 0 -15.6 0M1330.7 84.9a7.8 7.8 0 1 0 15.6 0a7.8 7.8 0 1 0 -15.6 0M1344.6 77.5a7.8 7.8 0 1 0 15.6 0a7.8 7.8 0 1 0 -15.6 0M1379.7 90.2a7.8 7.8 0 1 0 15.6 0a7.8 7.8 0 1 0 -15.6 0M1389.3 86a7.8 7.8 0 1 0 15.6 0a7.8 7.8 0 1 0 -15.6 0M1364.8 46.6a7.8 7.8 0 1 0 15.6 0a7.8 7.8 0 1 0 -15.6 0M1390.3 48.7a7.8 7.8 0 1 0 15.6 0a7.8 7.8 0 1 0 -15.6 0M1406.3 46.6a7.8 7.8 0 1 0 15.6 0a7.8 7.8 0 1 0 -15.6 0M1402 61.5a7.8 7.8 0 1 0 15.6 0a7.8 7.8 0 1 0 -15.6 0M1431.8 45.5a7.8 7.8 0 1 0 15.6 0a7.8 7.8 0 1 0 -15.6 0M1438.2 47.7a7.8 7.8 0 1 0 15.6 0a7.8 7.8 0 1 0 -15.6 0M1432.9 57.2a7.8 7.8 0 1 0 15.6 0a7.8 7.8 0 1 0 -15.6 0M1431.8 64.7a7.8 7.8 0 1 0 15.6 0a7.8 7.8 0 1 0 -15.6 0M1435 76.4a7.8 7.8 0 1 0 15.6 0a7.8 7.8 0 1 0 -15.6 0M1435 95.5a7.8 7.8 0 1 0 15.6 0a7.8 7.8 0 1 0 -15.6 0M1423.3 115.8a7.8 7.8 0 1 0 15.6 0a7.8 7.8 0 1 0 -15.6 0M1455.2 47.7a7.8 7.8 0 1 0 15.6 0a7.8 7.8 0 1 0 -15.6 0M1457.4 54a7.8 7.8 0 1 0 15.6 0a7.8 7.8 0 1 0 -15.6 0M1470.1 45.5a7.8 7.8 0 1 0 15.6 0a7.8 7.8 0 1 0 -15.6 0M1473.3 41.3a7.8 7.8 0 1 0 15.6 0a7.8 7.8 0 1 0 -15.6 0M1472.3 74.3a7.8 7.8 0 1 0 15.6 0a7.8 7.8 0 1 0 -15.6 0M1459.5 77.5a7.8 7.8 0 1 0 15.6 0a7.8 7.8 0 1 0 -15.6 0M1449.9 83.8a7.8 7.8 0 1 0 15.6 0a7.8 7.8 0 1 0 -15.6 0M1465.9 83.8a7.8 7.8 0 1 0 15.6 0a7.8 7.8 0 1 0 -15.6 0M1466.9 98.7a7.8 7.8 0 1 0 15.6 0a7.8 7.8 0 1 0 -15.6 0M1366.9 172.2a7.8 7.8 0 1 0 15.6 0a7.8 7.8 0 1 0 -15.6 0M1393.5 173.2a7.8 7.8 0 1 0 15.6 0a7.8 7.8 0 1 0 -15.6 0M1336.1 179.6a7.8 7.8 0 1 0 15.6 0a7.8 7.8 0 1 0 -15.6 0M1316.9 250.9a7.8 7.8 0 1 0 15.6 0a7.8 7.8 0 1 0 -15.6 0M1212.6 244.5a7.8 7.8 0 1 0 15.6 0a7.8 7.8 0 1 0 -15.6 0M1236 252a7.8 7.8 0 1 0 15.6 0a7.8 7.8 0 1 0 -15.6 0M1199.9 256.2a7.8 7.8 0 1 0 15.6 0a7.8 7.8 0 1 0 -15.6 0M1259.5 173.2a7.8 7.8 0 1 0 15.6 0a7.8 7.8 0 1 0 -15.6 0M1297.8 179.6a7.8 7.8 0 1 0 15.6 0a7.8 7.8 0 1 0 -15.6 0M1321.2 173.2a7.8 7.8 0 1 0 15.6 0a7.8 7.8 0 1 0 -15.6 0" fill="#4472C4"/>
<path d="M1212.8 244.8a7.8 7.8 0 1 0 15.6 0a7.8 7.8 0 1 0 -15.6 0M1316.4 251.2a7.8 7.8 0 1 0 15.6 0a7.8 7.8 0 1 0 -15.6 0M1243.8 340.9a7.8 7.8 0 1 0 15.6 0a7.8 7.8 0 1 0 -15.6 0M1165.9 394.3a7.8 7.8 0 1 0 15.6 0a7.8 7.8 0 1 0 -15.6 0M1112.5 210.7a7.8 7.8 0 1 0 15.6 0a7.8 7.8 0 1 0 -15.6 0M1247 302.5a7.8 7.8 0 1 0 15.6 0a7.8 7.8 0 1 0 -15.6 0M1218.2 313.2a7.8 7.8 0 1 0 15.6 0a7.8 7.8 0 1 0 -15.6 0" fill="#4472C4"/>
<path d="M1321.1 174a7.8 7.8 0 1 0 15.6 0a7.8 7.8 0 1 0 -15.6 0M1336.3 180.4a7.8 7.8 0 1 0 15.6 0a7.8 7.8 0 1 0 -15.6 0M1366.7 172.4a7.8 7.8 0 1 0 15.6 0a7.8 7.8 0 1 0 -15.6 0M1393.1 174a7.8 7.8 0 1 0 15.6 0a7.8 7.8 0 1 0 -15.6 0M1188.2 241.3a7.8 7.8 0 1 0 15.6 0a7.8 7.8 0 1 0 -15.6 0M1212.2 244.5a7.8 7.8 0 1 0 15.6 0a7.8 7.8 0 1 0 -15.6 0M1236.2 241.3a7.8 7.8 0 1 0 15.6 0a7.8 7.8 0 1 0 -15.6 0M1316.3 247.7a7.8 7.8 0 1 0 15.6 0a7.8 7.8 0 1 0 -15.6 0M1178.6 142a7.8 7.8 0 1 0 15.6 0a7.8 7.8 0 1 0 -15.6 0M1172.2 241.3a7.8 7.8 0 1 0 15.6 0a7.8 7.8 0 1 0 -15.6 0M1300.3 180.4a7.8 7.8 0 1 0 15.6 0a7.8 7.8 0 1 0 -15.6 0M1287.5 174a7.8 7.8 0 1 0 15.6 0a7.8 7.8 0 1 0 -15.6 0M1261.9 174a7.8 7.8 0 1 0 15.6 0a7.8 7.8 0 1 0 -15.6 0M1313.1 161.2a7.8 7.8 0 1 0 15.6 0a7.8 7.8 0 1 0 -15.6 0" fill="#4472C4"/>
<path d="M994.2 269.9L1002 285.1L986.4 285.1Z" fill="#ED7D31"/><path d="M994.2 274.6L998.5 283L989.9 283Z" fill="#FF0000"/>
<path d="M997.4 290.2L1005.2 305.4L989.6 305.4Z" fill="#ED7D31"/><path d="M997.4 294.9L1001.7 303.2L993.1 303.2Z" fill="#FF0000"/>
<path d="M986.7 305.1L994.5 320.3L978.9 320.3Z" fill="#ED7D31"/><path d="M986.7 309.8L991 318.2L982.5 318.2Z" fill="#FF0000"/>
<path d="M1007 310.5L1014.8 325.7L999.2 325.7Z" fill="#ED7D31"/><path d="M1007 315.2L1011.3 323.5L1002.7 323.5Z" fill="#FF0000"/>
<path d="M1040.1 301.9L1047.9 317.1L1032.3 317.1Z" fill="#ED7D31"/><path d="M1040.1 306.6L1044.4 315L1035.8 315Z" fill="#FF0000"/>
<path d="M1040.1 307.3L1047.9 322.5L1032.3 322.5Z" fill="#ED7D31"/><path d="M1040.1 312L1044.4 320.3L1035.8 320.3Z" fill="#FF0000"/>
<path d="M1026.2 316.9L1034 332.1L1018.4 332.1Z" fill="#ED7D31"/><path d="M1026.2 321.6L1030.5 329.9L1022 329.9Z" fill="#FF0000"/>
<path d="M998.5 322.2L1006.3 337.4L990.7 337.4Z" fill="#ED7D31"/><path d="M998.5 326.9L1002.8 335.3L994.2 335.3Z" fill="#FF0000"/>
<path d="M1009.2 327.5L1017 342.7L1001.4 342.7Z" fill="#ED7D31"/><path d="M1009.2 332.2L1013.5 340.6L1004.9 340.6Z" fill="#FF0000"/>
<path d="M1022 331.8L1029.8 347L1014.2 347Z" fill="#ED7D31"/><path d="M1022 336.5L1026.3 344.9L1017.7 344.9Z" fill="#FF0000"/>
<path d="M1038 329.7L1045.8 344.9L1030.2 344.9Z" fill="#ED7D31"/><path d="M1038 334.4L1042.3 342.7L1033.7 342.7Z" fill="#FF0000"/>
<path d="M1055.1 321.1L1062.9 336.3L1047.3 336.3Z" fill="#ED7D31"/><path d="M1055.1 325.8L1059.4 334.2L1050.8 334.2Z" fill="#FF0000"/>
<path d="M1066.8 330.7L1074.6 345.9L1059 345.9Z" fill="#ED7D31"/><path d="M1066.8 335.4L1071.1 343.8L1062.5 343.8Z" fill="#FF0000"/>
<path d="M952.6 323.3L960.4 338.5L944.8 338.5Z" fill="#ED7D31"/><path d="M952.6 328L956.9 336.3L948.3 336.3Z" fill="#FF0000"/>
<path d="M967.5 319L975.3 334.2L959.7 334.2Z" fill="#ED7D31"/><path d="M967.5 323.7L971.8 332.1L963.2 332.1Z" fill="#FF0000"/>
<path d="M962.2 333.9L970 349.1L954.4 349.1Z" fill="#ED7D31"/><path d="M962.2 338.6L966.5 347L957.9 347Z" fill="#FF0000"/>
<path d="M969.7 337.1L977.5 352.3L961.9 352.3Z" fill="#ED7D31"/><path d="M969.7 341.8L974 350.2L965.4 350.2Z" fill="#FF0000"/>
<path d="M980.3 338.2L988.1 353.4L972.5 353.4Z" fill="#ED7D31"/><path d="M980.3 342.9L984.6 351.3L976.1 351.3Z" fill="#FF0000"/>
<path d="M995.3 336.1L1003.1 351.3L987.5 351.3Z" fill="#ED7D31"/><path d="M995.3 340.8L999.6 349.1L991 349.1Z" fill="#FF0000"/>
<path d="M1016.6 344.6L1024.4 359.8L1008.8 359.8Z" fill="#ED7D31"/><path d="M1016.6 349.3L1020.9 357.7L1012.3 357.7Z" fill="#FF0000"/>
<path d="M1040.1 346.7L1047.9 361.9L1032.3 361.9Z" fill="#ED7D31"/><path d="M1040.1 351.5L1044.4 359.8L1035.8 359.8Z" fill="#FF0000"/>
<path d="M1055.1 358.5L1062.9 373.7L1047.3 373.7Z" fill="#ED7D31"/><path d="M1055.1 363.2L1059.4 371.6L1050.8 371.6Z" fill="#FF0000"/>
<path d="M920.6 342.5L928.4 357.7L912.8 357.7Z" fill="#ED7D31"/><path d="M920.6 347.2L924.9 355.5L916.3 355.5Z" fill="#FF0000"/>
<path d="M913.1 350L920.9 365.2L905.3 365.2Z" fill="#ED7D31"/><path d="M913.1 354.7L917.4 363L908.8 363Z" fill="#FF0000"/>
<path d="M950.5 344.6L958.3 359.8L942.7 359.8Z" fill="#ED7D31"/><path d="M950.5 349.3L954.7 357.7L946.2 357.7Z" fill="#FF0000"/>
<path d="M1101 280.6L1108.8 295.8L1093.2 295.8Z" fill="#ED7D31"/><path d="M1101 285.3L1105.3 293.6L1096.7 293.6Z" fill="#FF0000"/>
<path d="M1099.9 309.4L1107.7 324.6L1092.1 324.6Z" fill="#ED7D31"/><path d="M1099.9 314.1L1104.2 322.5L1095.6 322.5Z" fill="#FF0000"/>
<path d="M1089.2 322.2L1097 337.4L1081.4 337.4Z" fill="#ED7D31"/><path d="M1089.2 326.9L1093.5 335.3L1084.9 335.3Z" fill="#FF0000"/>
<path d="M1105.2 324.3L1113 339.5L1097.4 339.5Z" fill="#ED7D31"/><path d="M1105.2 329L1109.5 337.4L1100.9 337.4Z" fill="#FF0000"/>
<path d="M1117 319L1124.8 334.2L1109.2 334.2Z" fill="#ED7D31"/><path d="M1117 323.7L1121.3 332.1L1112.7 332.1Z" fill="#FF0000"/>
<path d="M1121.2 314.7L1129 329.9L1113.4 329.9Z" fill="#ED7D31"/><path d="M1121.2 319.4L1125.5 327.8L1117 327.8Z" fill="#FF0000"/>
<path d="M1131.9 311.5L1139.7 326.7L1124.1 326.7Z" fill="#ED7D31"/><path d="M1131.9 316.2L1136.2 324.6L1127.6 324.6Z" fill="#FF0000"/>
<path d="M1145.8 307.3L1153.6 322.5L1138 322.5Z" fill="#ED7D31"/><path d="M1145.8 312L1150.1 320.3L1141.5 320.3Z" fill="#FF0000"/>
<path d="M1149 319L1156.8 334.2L1141.2 334.2Z" fill="#ED7D31"/><path d="M1149 323.7L1153.3 332.1L1144.7 332.1Z" fill="#FF0000"/>
<path d="M1165 308.3L1172.8 323.5L1157.2 323.5Z" fill="#ED7D31"/><path d="M1165 313L1169.3 321.4L1160.7 321.4Z" fill="#FF0000"/>
<path d="M1171.4 314.7L1179.2 329.9L1163.6 329.9Z" fill="#ED7D31"/><path d="M1171.4 319.4L1175.7 327.8L1167.1 327.8Z" fill="#FF0000"/>
<path d="M1176.8 324.3L1184.6 339.5L1169 339.5Z" fill="#ED7D31"/><path d="M1176.8 329L1181 337.4L1172.5 337.4Z" fill="#FF0000"/>
<path d="M1177.8 292.3L1185.6 307.5L1170 307.5Z" fill="#ED7D31"/><path d="M1177.8 297L1182.1 305.4L1173.5 305.4Z" fill="#FF0000"/>
<path d="M1175.7 297.6L1183.5 312.8L1167.9 312.8Z" fill="#ED7D31"/><path d="M1175.7 302.4L1180 310.7L1171.4 310.7Z" fill="#FF0000"/>
<path d="M1142.6 333.9L1150.4 349.1L1134.8 349.1Z" fill="#ED7D31"/><path d="M1142.6 338.6L1146.9 347L1138.3 347Z" fill="#FF0000"/>
<path d="M1106.3 337.1L1114.1 352.3L1098.5 352.3Z" fill="#ED7D31"/><path d="M1106.3 341.8L1110.6 350.2L1102 350.2Z" fill="#FF0000"/>
<path d="M1114.8 336.1L1122.6 351.3L1107 351.3Z" fill="#ED7D31"/><path d="M1114.8 340.8L1119.1 349.1L1110.6 349.1Z" fill="#FF0000"/>
<path d="M1091.4 350L1099.2 365.2L1083.6 365.2Z" fill="#ED7D31"/><path d="M1091.4 354.7L1095.6 363L1087.1 363Z" fill="#FF0000"/>
<path d="M1099.9 344.6L1107.7 359.8L1092.1 359.8Z" fill="#ED7D31"/><path d="M1099.9 349.3L1104.2 357.7L1095.6 357.7Z" fill="#FF0000"/>
<path d="M1105.2 348.9L1113 364.1L1097.4 364.1Z" fill="#ED7D31"/><path d="M1105.2 353.6L1109.5 362L1100.9 362Z" fill="#FF0000"/>
<path d="M1122.3 352.1L1130.1 367.3L1114.5 367.3Z" fill="#ED7D31"/><path d="M1122.3 356.8L1126.6 365.2L1118 365.2Z" fill="#FF0000"/>
<path d="M1115.9 359.6L1123.7 374.8L1108.1 374.8Z" fill="#ED7D31"/><path d="M1115.9 364.3L1120.2 372.6L1111.6 372.6Z" fill="#FF0000"/>
<path d="M1119.1 363.8L1126.9 379L1111.3 379Z" fill="#ED7D31"/><path d="M1119.1 368.5L1123.4 376.9L1114.8 376.9Z" fill="#FF0000"/>
<path d="M1136.2 364.9L1144 380.1L1128.4 380.1Z" fill="#ED7D31"/><path d="M1136.2 369.6L1140.5 378L1131.9 378Z" fill="#FF0000"/>
<path d="M1151.1 359.6L1158.9 374.8L1143.3 374.8Z" fill="#ED7D31"/><path d="M1151.1 364.3L1155.4 372.6L1146.8 372.6Z" fill="#FF0000"/>
<path d="M1156.5 368.1L1164.3 383.3L1148.7 383.3Z" fill="#ED7D31"/><path d="M1156.5 372.8L1160.8 381.2L1152.2 381.2Z" fill="#FF0000"/>
<path d="M1165 347.8L1172.8 363L1157.2 363Z" fill="#ED7D31"/><path d="M1165 352.5L1169.3 360.9L1160.7 360.9Z" fill="#FF0000"/>
<path d="M1172.5 354.2L1180.3 369.4L1164.7 369.4Z" fill="#ED7D31"/><path d="M1172.5 358.9L1176.8 367.3L1168.2 367.3Z" fill="#FF0000"/>
<path d="M1171.4 362.8L1179.2 378L1163.6 378Z" fill="#ED7D31"/><path d="M1171.4 367.5L1175.7 375.8L1167.1 375.8Z" fill="#FF0000"/>
<path d="M204.2 648.7L213.5 644.9L230.3 643.1L245.3 639.3L252.7 646.8L256.5 659.9L247.1 665.5L237.8 669.2L230.3 673L243.4 673L258.3 674.8L271.4 680.4L280.7 676.7L291.9 678.6L293.8 689.8L291.9 697.2L303.2 693.5L308.8 686L314.4 684.2L318.1 691.6L320 699.1L325.6 697.2L327.4 687.9L334.9 686L338.6 693.5L346.1 697.2L353.6 697.2L362.9 701L374.1 708.4L376 715.9L368.5 715.9L355.5 717.8L348 721.5L357.3 725.3L348 734.6L346.1 742.1L344.2 749.5L355.5 749.5L364.8 747.7L372.3 753.3L370.4 760.7L376 771.9L374.1 779.4L377.9 790.6L379.7 801.8L387.2 807.4L389.1 816.8L392.8 824.2L396.5 828L392.8 833.6L385.3 839.9L206 839.9L209.8 831.7L217.2 824.2L211.6 809.3L213.5 794.4L209.8 786.9L215.4 777.6L213.5 768.2L217.2 760.7L215.4 753.3L206 749.5L196.7 749.5L191.1 745.8L183.6 736.5L187.4 730.9L179.9 723.4L176.1 714L170.5 706.6L178 701L178 693.5L179.9 684.2L183.6 678.6L193 680.4L204.2 680.4L213.5 678.6L215.4 667.4L211.6 663.6L206 656.1Z" fill="#4472C4" stroke="#4472C4" stroke-width="1" stroke-linejoin="round"/>
<path d="M206 830L390.9 830L392.8 844.9L379.7 856.1L374.1 867.4L383.5 882.3L402.1 889.8L415.2 895.4L430 897.2L430 973.8L419 971.9L407.8 971.9L392.8 970.1L385.3 977.6L374.1 973.8L364.8 968.2L353.6 968.2L348 975.7L336.8 971.9L327.4 977.6L318.1 973.8L312.5 970.1L308.8 960.7L305 955.1L299.4 957L293.8 966.3L291.9 975.7L280.7 971.9L271.4 975.7L265.8 971.9L262.1 968.2L252.7 971.9L239.7 968.2L228.4 966.3L221 960.7L213.5 960.7L207.9 949.5L207.9 940.2L217.2 934.6L219.1 919.7L211.6 914L196.7 912.2L185.5 904.7L185.5 893.5L196.7 889.8L206 886L207.9 874.8L211.6 867.4L209.8 859.9L202.3 854.3L206 841.2Z" fill="#4472C4" stroke="#4472C4" stroke-width="1" stroke-linejoin="round"/>
<path d="M400 893.4L411.2 900.9L422.4 899L437.4 897.1L452.3 897.1L459.8 904.6L471 904.6L478.4 908.3L484 915.8L491.5 923.3L497.1 915.8L497.1 904.6L504.6 899L515.8 902.7L530.7 906.5L541.9 908.3L541.9 919.5L538.2 930.7L538.2 941.9L538.2 953.2L534.5 962.5L527 958.8L519.5 956.9L512.1 962.5L504.6 968.1L497.1 971.8L487.8 977.4L478.4 979.3L469.1 973.7L461.6 964.4L452.3 962.5L444.8 960.6L433.6 968.1L422.4 971.8L411.2 971.8L400 968.1Z" fill="#4472C4" stroke="#4472C4" stroke-width="1" stroke-linejoin="round"/>
<path d="M222.8 850.5L232.2 848.7L243.4 858L252.7 869.2L247.1 874.8L234 878.6L224.7 882.3L219.1 874.8L221 863.6Z" fill="#fff"/>
<path d="M450.4 941.9L459.8 936.3L469.1 938.2L465.4 947.6L456 949.4Z" fill="#fff"/>
<path d="M482.2 941.9L489.7 936.3L500.9 941.9L497.1 951.3L487.8 951.3Z" fill="#fff"/>
<path d="M515.8 938.2L527 936.3L530.7 945.7L521.4 949.4Z" fill="#fff"/>
<path d="M317.2 845.9L324.6 844L326.5 853.3L319 855.2Z" fill="#fff"/>
<path d="M351.7 845.9L360.1 844.9L361.1 853.3L353.6 854.3Z" fill="#fff"/>
<path d="M335.8 875.8L344.2 874.8L343.3 880.4L336.8 880.4Z" fill="#fff"/>
<path d="M232.2 926.2L239.7 925.3L238.7 934.6L233.1 933.7Z" fill="#fff"/>
<path d="M254.6 935.5L262.1 934.6L261.7 942.1L255 942.1Z" fill="#fff"/>
<path d="M280.7 950.5L286.3 949.5L285.4 958.9L281.7 958.9Z" fill="#fff"/>
<path d="M310.6 941.1L323.7 939.3L322.8 943.9L311.6 944.3Z" fill="#fff"/>
<path d="M368.5 924.3L376.9 923.4L377.9 931.8L369.5 932.7Z" fill="#fff"/>
<path d="M180.5 664.6a7.8 7.8 0 1 0 15.6 0a7.8 7.8 0 1 0 -15.6 0M399 715a7.8 7.8 0 1 0 15.6 0a7.8 7.8 0 1 0 -15.6 0M383.1 720.6a7.8 7.8 0 1 0 15.6 0a7.8 7.8 0 1 0 -15.6 0M366.3 729a7.8 7.8 0 1 0 15.6 0a7.8 7.8 0 1 0 -15.6 0M382.2 745.8a7.8 7.8 0 1 0 15.6 0a7.8 7.8 0 1 0 -15.6 0M382.2 756.1a7.8 7.8 0 1 0 15.6 0a7.8 7.8 0 1 0 -15.6 0M399 743.9a7.8 7.8 0 1 0 15.6 0a7.8 7.8 0 1 0 -15.6 0M415.8 743a7.8 7.8 0 1 0 15.6 0a7.8 7.8 0 1 0 -15.6 0M383.1 775.7a7.8 7.8 0 1 0 15.6 0a7.8 7.8 0 1 0 -15.6 0M376.6 784.1a7.8 7.8 0 1 0 15.6 0a7.8 7.8 0 1 0 -15.6 0M388.7 803.7a7.8 7.8 0 1 0 15.6 0a7.8 7.8 0 1 0 -15.6 0M397.1 810.2a7.8 7.8 0 1 0 15.6 0a7.8 7.8 0 1 0 -15.6 0M383.1 826.1a7.8 7.8 0 1 0 15.6 0a7.8 7.8 0 1 0 -15.6 0M394.3 835.5a7.8 7.8 0 1 0 15.6 0a7.8 7.8 0 1 0 -15.6 0M373.8 836.4a7.8 7.8 0 1 0 15.6 0a7.8 7.8 0 1 0 -15.6 0M193.6 762.6a7.8 7.8 0 1 0 15.6 0a7.8 7.8 0 1 0 -15.6 0M186.1 778.5a7.8 7.8 0 1 0 15.6 0a7.8 7.8 0 1 0 -15.6 0M192.6 784.1a7.8 7.8 0 1 0 15.6 0a7.8 7.8 0 1 0 -15.6 0M186.1 800a7.8 7.8 0 1 0 15.6 0a7.8 7.8 0 1 0 -15.6 0M174.9 834.5a7.8 7.8 0 1 0 15.6 0a7.8 7.8 0 1 0 -15.6 0M206.6 807.4a7.8 7.8 0 1 0 15.6 0a7.8 7.8 0 1 0 -15.6 0M212.2 768.2a7.8 7.8 0 1 0 15.6 0a7.8 7.8 0 1 0 -15.6 0M179.6 736.5a7.8 7.8 0 1 0 15.6 0a7.8 7.8 0 1 0 -15.6 0M188.9 745.8a7.8 7.8 0 1 0 15.6 0a7.8 7.8 0 1 0 -15.6 0" fill="#4472C4"/>
<path d="M428.1 742.1a7.8 7.8 0 1 0 15.6 0a7.8 7.8 0 1 0 -15.6 0M438.3 744.1a7.8 7.8 0 1 0 15.6 0a7.8 7.8 0 1 0 -15.6 0" fill="#4472C4"/>
<path d="M174.9 835.6a7.8 7.8 0 1 0 15.6 0a7.8 7.8 0 1 0 -15.6 0M172.1 865.5a7.8 7.8 0 1 0 15.6 0a7.8 7.8 0 1 0 -15.6 0M160.9 897.2a7.8 7.8 0 1 0 15.6 0a7.8 7.8 0 1 0 -15.6 0M175.8 911.2a7.8 7.8 0 1 0 15.6 0a7.8 7.8 0 1 0 -15.6 0M394.3 838.4a7.8 7.8 0 1 0 15.6 0a7.8 7.8 0 1 0 -15.6 0M410.2 885.1a7.8 7.8 0 1 0 15.6 0a7.8 7.8 0 1 0 -15.6 0M415.8 871.1a7.8 7.8 0 1 0 15.6 0a7.8 7.8 0 1 0 -15.6 0M396.2 874.8a7.8 7.8 0 1 0 15.6 0a7.8 7.8 0 1 0 -15.6 0M271.1 986.9a7.8 7.8 0 1 0 15.6 0a7.8 7.8 0 1 0 -15.6 0M272.9 995.3a7.8 7.8 0 1 0 15.6 0a7.8 7.8 0 1 0 -15.6 0M297.2 990.6a7.8 7.8 0 1 0 15.6 0a7.8 7.8 0 1 0 -15.6 0M304.7 992.5a7.8 7.8 0 1 0 15.6 0a7.8 7.8 0 1 0 -15.6 0M317.8 976.6a7.8 7.8 0 1 0 15.6 0a7.8 7.8 0 1 0 -15.6 0M338.3 973.8a7.8 7.8 0 1 0 15.6 0a7.8 7.8 0 1 0 -15.6 0M376.6 975.7a7.8 7.8 0 1 0 15.6 0a7.8 7.8 0 1 0 -15.6 0M286 974.8a7.8 7.8 0 1 0 15.6 0a7.8 7.8 0 1 0 -15.6 0M263.6 971.9a7.8 7.8 0 1 0 15.6 0a7.8 7.8 0 1 0 -15.6 0" fill="#4472C4"/>
<path d="M395.9 811.2a7.8 7.8 0 1 0 15.6 0a7.8 7.8 0 1 0 -15.6 0M397.8 809.3a7.8 7.8 0 1 0 15.6 0a7.8 7.8 0 1 0 -15.6 0M395 838.3a7.8 7.8 0 1 0 15.6 0a7.8 7.8 0 1 0 -15.6 0M396.9 874.7a7.8 7.8 0 1 0 15.6 0a7.8 7.8 0 1 0 -15.6 0M410.9 884a7.8 7.8 0 1 0 15.6 0a7.8 7.8 0 1 0 -15.6 0M415.5 871a7.8 7.8 0 1 0 15.6 0a7.8 7.8 0 1 0 -15.6 0M425.8 866.3a7.8 7.8 0 1 0 15.6 0a7.8 7.8 0 1 0 -15.6 0M434.2 880.3a7.8 7.8 0 1 0 15.6 0a7.8 7.8 0 1 0 -15.6 0M440.8 885.9a7.8 7.8 0 1 0 15.6 0a7.8 7.8 0 1 0 -15.6 0M466.9 878.4a7.8 7.8 0 1 0 15.6 0a7.8 7.8 0 1 0 -15.6 0M502.4 852.3a7.8 7.8 0 1 0 15.6 0a7.8 7.8 0 1 0 -15.6 0M513.6 850.4a7.8 7.8 0 1 0 15.6 0a7.8 7.8 0 1 0 -15.6 0M466.9 906.5a7.8 7.8 0 1 0 15.6 0a7.8 7.8 0 1 0 -15.6 0M474.4 913.9a7.8 7.8 0 1 0 15.6 0a7.8 7.8 0 1 0 -15.6 0M495.9 902.7a7.8 7.8 0 1 0 15.6 0a7.8 7.8 0 1 0 -15.6 0M511.7 906.5a7.8 7.8 0 1 0 15.6 0a7.8 7.8 0 1 0 -15.6 0M526.7 908.3a7.8 7.8 0 1 0 15.6 0a7.8 7.8 0 1 0 -15.6 0M465 944.8a7.8 7.8 0 1 0 15.6 0a7.8 7.8 0 1 0 -15.6 0M480 944.8a7.8 7.8 0 1 0 15.6 0a7.8 7.8 0 1 0 -15.6 0M487.5 979.3a7.8 7.8 0 1 0 15.6 0a7.8 7.8 0 1 0 -15.6 0M474.4 977.4a7.8 7.8 0 1 0 15.6 0a7.8 7.8 0 1 0 -15.6 0M524.8 956.9a7.8 7.8 0 1 0 15.6 0a7.8 7.8 0 1 0 -15.6 0M521.1 947.6a7.8 7.8 0 1 0 15.6 0a7.8 7.8 0 1 0 -15.6 0M461.3 970a7.8 7.8 0 1 0 15.6 0a7.8 7.8 0 1 0 -15.6 0" fill="#4472C4"/>
<path d="M312.5 885.3L320.3 900.5L304.7 900.5Z" fill="#ED7D31"/><path d="M312.5 890L316.8 898.4L308.2 898.4Z" fill="#FF0000"/>
<path d="M317.2 901.2L325 916.4L309.4 916.4Z" fill="#ED7D31"/><path d="M317.2 905.9L321.5 914.3L312.9 914.3Z" fill="#FF0000"/>
<path d="M280.7 915.2L288.5 930.4L272.9 930.4Z" fill="#ED7D31"/><path d="M280.7 919.9L285 928.3L276.5 928.3Z" fill="#FF0000"/>
<path d="M267.7 922.7L275.5 937.9L259.9 937.9Z" fill="#ED7D31"/><path d="M267.7 927.4L272 935.8L263.4 935.8Z" fill="#FF0000"/>
<path d="M266.7 928.3L274.5 943.5L258.9 943.5Z" fill="#ED7D31"/><path d="M266.7 933L271 941.4L262.4 941.4Z" fill="#FF0000"/>
<path d="M266.7 937.6L274.5 952.8L258.9 952.8Z" fill="#ED7D31"/><path d="M266.7 942.3L271 950.7L262.4 950.7Z" fill="#FF0000"/>
<path d="M306 939.5L313.8 954.7L298.2 954.7Z" fill="#ED7D31"/><path d="M306 944.2L310.2 952.6L301.7 952.6Z" fill="#FF0000"/>
<path d="M242.5 943.2L250.3 958.4L234.7 958.4Z" fill="#ED7D31"/><path d="M242.5 947.9L246.7 956.3L238.2 956.3Z" fill="#FF0000"/>
<path d="M250.9 944.2L258.7 959.4L243.1 959.4Z" fill="#ED7D31"/><path d="M250.9 948.9L255.1 957.2L246.6 957.2Z" fill="#FF0000"/>
<path d="M262.1 951.6L269.9 966.8L254.3 966.8Z" fill="#ED7D31"/><path d="M262.1 956.4L266.4 964.7L257.8 964.7Z" fill="#FF0000"/>
<path d="M241.5 953.5L249.3 968.7L233.7 968.7Z" fill="#ED7D31"/><path d="M241.5 958.2L245.8 966.6L237.2 966.6Z" fill="#FF0000"/>
<path d="M228.4 956.3L236.2 971.5L220.6 971.5Z" fill="#ED7D31"/><path d="M228.4 961L232.7 969.4L224.2 969.4Z" fill="#FF0000"/>
<path d="M253.7 961L261.5 976.2L245.9 976.2Z" fill="#ED7D31"/><path d="M253.7 965.7L258 974L249.4 974Z" fill="#FF0000"/>
<path d="M389.1 917.1L396.9 932.3L381.3 932.3Z" fill="#ED7D31"/><path d="M389.1 921.8L393.4 930.2L384.8 930.2Z" fill="#FF0000"/>
<path d="M381.6 941.4L389.4 956.6L373.8 956.6Z" fill="#ED7D31"/><path d="M381.6 946.1L385.9 954.4L377.3 954.4Z" fill="#FF0000"/>
<path d="M374.1 958.2L381.9 973.4L366.3 973.4Z" fill="#ED7D31"/><path d="M374.1 962.9L378.4 971.2L369.8 971.2Z" fill="#FF0000"/>
<path d="M541 865.6L548.8 880.8L533.2 880.8Z" fill="#ED7D31"/><path d="M541 870.3L545.3 878.7L536.7 878.7Z" fill="#FF0000"/>
<path d="M627.9 875.9L635.7 891.1L620.1 891.1Z" fill="#ED7D31"/><path d="M627.9 880.6L632.2 889L623.6 889Z" fill="#FF0000"/>
<path d="M546.6 887.1L554.4 902.3L538.8 902.3Z" fill="#ED7D31"/><path d="M546.6 891.8L550.9 900.2L542.3 900.2Z" fill="#FF0000"/>
<path d="M565.3 890.8L573.1 906L557.5 906Z" fill="#ED7D31"/><path d="M565.3 895.5L569.6 903.9L561 903.9Z" fill="#FF0000"/>
<path d="M569 898.3L576.8 913.5L561.2 913.5Z" fill="#ED7D31"/><path d="M569 903L573.3 911.4L564.7 911.4Z" fill="#FF0000"/>
<path d="M554.1 902L561.9 917.2L546.3 917.2Z" fill="#ED7D31"/><path d="M554.1 906.7L558.4 915.1L549.8 915.1Z" fill="#FF0000"/>
<path d="M545.7 903L553.5 918.2L537.9 918.2Z" fill="#ED7D31"/><path d="M545.7 907.7L550 916L541.4 916Z" fill="#FF0000"/>
<path d="M540.1 906.7L547.9 921.9L532.3 921.9Z" fill="#ED7D31"/><path d="M540.1 911.4L544.4 919.8L535.8 919.8Z" fill="#FF0000"/>
<path d="M562.5 912.3L570.3 927.5L554.7 927.5Z" fill="#ED7D31"/><path d="M562.5 917L566.8 925.4L558.2 925.4Z" fill="#FF0000"/>
<path d="M558.8 913.2L566.6 928.4L551 928.4Z" fill="#ED7D31"/><path d="M558.8 917.9L563 926.3L554.5 926.3Z" fill="#FF0000"/>
<path d="M547.6 914.2L555.4 929.4L539.8 929.4Z" fill="#ED7D31"/><path d="M547.6 918.9L551.8 927.2L543.3 927.2Z" fill="#FF0000"/>
<path d="M538.2 917.9L546 933.1L530.4 933.1Z" fill="#ED7D31"/><path d="M538.2 922.6L542.5 931L533.9 931Z" fill="#FF0000"/>
<path d="M552.2 923.5L560 938.7L544.4 938.7Z" fill="#ED7D31"/><path d="M552.2 928.2L556.5 936.6L547.9 936.6Z" fill="#FF0000"/>
<path d="M541.9 931.9L549.7 947.1L534.1 947.1Z" fill="#ED7D31"/><path d="M541.9 936.6L546.2 945L537.7 945Z" fill="#FF0000"/>
<path d="M539.1 940.3L546.9 955.5L531.3 955.5Z" fill="#ED7D31"/><path d="M539.1 945L543.4 953.4L534.9 953.4Z" fill="#FF0000"/>
<path d="M545.7 939.4L553.5 954.6L537.9 954.6Z" fill="#ED7D31"/><path d="M545.7 944.1L550 952.5L541.4 952.5Z" fill="#FF0000"/>
<path d="M561.6 931L569.4 946.2L553.8 946.2Z" fill="#ED7D31"/><path d="M561.6 935.7L565.9 944L557.3 944Z" fill="#FF0000"/>
<path d="M575.6 929.1L583.4 944.3L567.8 944.3Z" fill="#ED7D31"/><path d="M575.6 933.8L579.9 942.2L571.3 942.2Z" fill="#FF0000"/>
<path d="M579.3 913.2L587.1 928.4L571.5 928.4Z" fill="#ED7D31"/><path d="M579.3 917.9L583.6 926.3L575 926.3Z" fill="#FF0000"/>
<path d="M585.8 912.3L593.6 927.5L578 927.5Z" fill="#ED7D31"/><path d="M585.8 917L590.1 925.4L581.6 925.4Z" fill="#FF0000"/>
<path d="M603.6 904.8L611.4 920L595.8 920Z" fill="#ED7D31"/><path d="M603.6 909.5L607.9 917.9L599.3 917.9Z" fill="#FF0000"/>
<path d="M608.3 920.7L616.1 935.9L600.5 935.9Z" fill="#ED7D31"/><path d="M608.3 925.4L612.5 933.8L604 933.8Z" fill="#FF0000"/>
<path d="M599.9 925.4L607.7 940.6L592.1 940.6Z" fill="#ED7D31"/><path d="M599.9 930.1L604.1 938.4L595.6 938.4Z" fill="#FF0000"/>
<path d="M586.8 937.5L594.6 952.7L579 952.7Z" fill="#ED7D31"/><path d="M586.8 942.2L591.1 950.6L582.5 950.6Z" fill="#FF0000"/>
<path d="M594.2 941.3L602 956.5L586.4 956.5Z" fill="#ED7D31"/><path d="M594.2 946L598.5 954.3L590 954.3Z" fill="#FF0000"/>
<path d="M640.9 930L648.7 945.2L633.1 945.2Z" fill="#ED7D31"/><path d="M640.9 934.8L645.2 943.1L636.7 943.1Z" fill="#FF0000"/>
<path d="M471 921.6L478.8 936.8L463.2 936.8Z" fill="#ED7D31"/><path d="M471 926.4L475.3 934.7L466.7 934.7Z" fill="#FF0000"/>
<path d="M497.1 929.1L504.9 944.3L489.3 944.3Z" fill="#ED7D31"/><path d="M497.1 933.8L501.4 942.2L492.8 942.2Z" fill="#FF0000"/>
<path d="M579.3 919.8L587.1 935L571.5 935Z" fill="#ED7D31"/><path d="M579.3 924.5L583.6 932.8L575 932.8Z" fill="#FF0000"/>
<path d="M995.2 644.7L1002.6 637.3L1009.9 647.6L1015.8 659.4L1020.2 666.7L1020.2 688.7L1021.6 710.7L1018.7 721L1021.6 734.2L1015.8 741.5L1012.8 750.3L1005.5 748.9L1002.6 741.5L995.2 734.2L992.3 726.9L995.2 719.5L992.3 706.3L993.8 693.1L992.3 679.9L993.8 665.2L993.8 652Z" fill="#4472C4" stroke="#4472C4" stroke-width="1" stroke-linejoin="round"/>
<path d="M1015.8 787L1018.7 798.8L1015.8 814.9L1017.2 830" fill="none" stroke="#4472C4" stroke-width="15.6" stroke-linecap="round" stroke-linejoin="round"/>
<path d="M1077.4 685.8L1083.3 674L1090.6 674L1096.5 685.8L1096.5 700.4L1095 712.2L1098 729.8L1092.1 738.6L1086.2 741.5L1077.4 735.7L1077.4 718.1L1077.4 703.4Z" fill="#4472C4" stroke="#4472C4" stroke-width="1" stroke-linejoin="round"/>
<path d="M1083.3 741.5L1092.1 748.1L1084.8 759.2L1092.1 770.9" fill="none" stroke="#4472C4" stroke-width="15.6" stroke-linecap="round" stroke-linejoin="round"/>
<path d="M1086.2 785.6L1092.1 781.2L1099.4 768L1106.8 765L1115.6 772.4L1124.4 776.8L1118.5 782.6L1121.4 791.4L1125.8 800.2L1124.4 809.1L1124.4 830L1077.4 830L1075.9 820.8L1075.9 806.1L1083.3 800.2L1087.7 794.4Z" fill="#4472C4" stroke="#4472C4" stroke-width="1" stroke-linejoin="round"/>
<path d="M1103.8 704.9L1111.2 699L1118.5 703.4L1121.4 693.1L1127.3 688.7L1134.7 694.6L1139.1 703.4L1139.1 718.1L1136.1 729.8L1140.5 745.9L1136.1 753.3L1134.7 765L1130.2 772.4L1122.9 768L1118.5 763.6L1109.7 762.1L1103.8 756.2L1102.4 740.1L1102.4 725.4L1100.9 713.7Z" fill="#4472C4" stroke="#4472C4" stroke-width="1" stroke-linejoin="round"/>
<path d="M1168.4 699L1174.3 691.6L1180 691.6L1180 830L1165.5 830L1162.5 819.3L1155.2 812L1153.7 804.7L1156.7 794.4L1155.2 776.8L1156.7 759.2L1156.7 744.5L1162.5 738.6L1168.4 732.7L1168.4 718.1Z" fill="#4472C4" stroke="#4472C4" stroke-width="1" stroke-linejoin="round"/>
<path d="M974.7 874.3L980.5 868.4L987.9 875.8L990.8 889L996.7 893.4L1004 899.3L1004 915.4L1002.6 931.5L999.6 944.8L1001.1 959.4L1001.1 968.2L995.2 974.1L986.4 971.2L977.6 975.6L970.3 971.2L970.3 952.1L968.8 937.4L971.7 925.7L974.7 911L973.2 893.4L973.2 881.6Z" fill="#4472C4" stroke="#4472C4" stroke-width="1" stroke-linejoin="round"/>
<path d="M1018 824.4L1017.2 840.5L1017.2 855.2L1019.4 864" fill="none" stroke="#4472C4" stroke-width="15.6" stroke-linecap="round" stroke-linejoin="round"/>
<path d="M1036.3 824.4L1043.7 820L1051 828.8L1059.8 834.7L1062.7 849.4L1059.8 864L1053.9 865.5L1042.2 864L1036.3 858.2L1036.3 842Z" fill="#4472C4" stroke="#4472C4" stroke-width="1" stroke-linejoin="round"/>
<path d="M1011.4 884.6L1017.2 880.2L1024.6 884.6L1026 899.3L1033.4 908.1L1036.3 896.3L1039.3 886L1046.6 878.7L1052.5 871.4L1058.3 875.8L1061.3 886L1059.8 893.4L1065.7 900.7L1071.5 886L1075.9 878.7L1075.9 868.4L1081.8 856.7L1081.8 834.7L1087.7 827.3L1087.7 820L1124.4 820L1125.8 834.7L1125.8 856.7L1121.4 871.4L1115.6 878.7L1109.7 875.8L1111.2 889L1108.2 899.3L1099.4 903.7L1089.2 897.8L1086.2 893.4L1083.3 902.2L1080.3 913.9L1080.3 930.1L1080.3 952.1L1074.5 959.4L1071.5 968.2L1062.7 972.6L1053.9 969.7L1051 978.5L1042.2 981.4L1033.4 982.9L1026 978.5L1024.6 966.8L1015.8 962.4L1012.8 952.1L1014.3 937.4L1012.8 922.7L1012.8 908.1L1011.4 896.3Z" fill="#4472C4" stroke="#4472C4" stroke-width="1" stroke-linejoin="round"/>
<path d="M1064.9 986.6L1064.9 996.9" fill="none" stroke="#4472C4" stroke-width="15.6" stroke-linecap="round" stroke-linejoin="round"/>
<path d="M1101.6 916.9L1100.2 930.1L1100.2 944.8L1100.9 958L1100.2 977" fill="none" stroke="#4472C4" stroke-width="15.6" stroke-linecap="round" stroke-linejoin="round"/>
<path d="M1128.8 878.7L1134.7 865.5L1143.5 862.6L1153.7 856.7L1155.2 839.1L1165.5 828.8L1180 820L1180 908.1L1171.3 905.1L1168.4 915.4L1171.3 931.5L1169.9 941.8L1171.3 959.4L1169.9 969.7L1162.5 972.6L1155.2 965.3L1147.9 968.2L1146.4 980L1134.7 980L1128.8 966.8L1128.8 947.7L1130.2 937.4L1127.3 922.7L1128.8 908.1L1127.3 890.4Z" fill="#4472C4" stroke="#4472C4" stroke-width="1" stroke-linejoin="round"/>
<path d="M1168.3 696.7L1175 691.7L1181.7 698.4L1183.4 723.4L1181.7 733.4L1185 743.4L1190 750.1L1196.7 746.7L1191.7 736.7L1191.7 706.7L1198.4 693.4L1205 686.7L1205 675L1211.7 670L1218.4 676.7L1221.7 686.7L1225.1 680L1233.4 681.7L1236.7 693.4L1236.7 713.4L1243.4 710.1L1251.7 706.7L1258.4 700L1266.7 706.7L1276.8 716.7L1288.4 723.4L1295.1 731.7L1298.4 743.4L1296.8 756.8L1300.1 766.8L1305.1 763.4L1308.4 756.8L1315.1 760.1L1320.1 768.4L1325.1 760.1L1333.5 751.7L1343.5 756.8L1350.1 761.8L1358.5 766.8L1358.5 788.4L1356.8 796.8L1360.1 806.8L1358.5 816.8L1361.8 830L1335.1 830L1333.5 821.8L1291.8 830L1288.4 823.5L1276.8 815.1L1270.1 806.8L1268.4 788.4L1271.7 776.8L1265.1 770.1L1256.7 766.8L1253.4 763.4L1255.1 776.8L1253.4 783.4L1255.1 800.1L1253.4 811.8L1253.4 830L1223.4 830L1228.4 815.1L1218.4 803.4L1216.7 790.1L1223.4 785.1L1216.7 780.1L1218.4 773.4L1226.7 771.8L1225.1 760.1L1228.4 751.7L1220 748.4L1210 746.7L1203.4 748.4L1201.7 763.4L1200 780.1L1200 796.8L1196.7 810.1L1190 816.8L1186.7 826.8L1160 830L1153.3 806.8L1155 790.1L1156.7 775.1L1155 760.1L1156.7 745.1L1165 736.7L1171.7 730.1L1170 716.7L1168.3 706.7Z" fill="#4472C4" stroke="#4472C4" stroke-width="1" stroke-linejoin="round"/>
<path d="M1150 820L1186.7 820L1185 833.3L1176.7 843.3L1178.4 853.4L1186.7 863.4L1185 873.4L1186.7 883.4L1186.7 893.4L1186.7 903.4L1178.4 906.7L1170 906.7L1165 916.7L1163.3 926.7L1171.7 933.4L1170 945.1L1171.7 958.4L1170 970.1L1160 971.8L1150 965.1Z" fill="#4472C4" stroke="#4472C4" stroke-width="1" stroke-linejoin="round"/>
<path d="M1246.7 822.5L1236.7 830L1225.1 835L1235.1 843.3L1235.9 856.7L1228.4 863.4L1222.5 876.7" fill="none" stroke="#4472C4" stroke-width="15.6" stroke-linecap="round" stroke-linejoin="round"/>
<path d="M1225.9 896.7L1225.1 910.1L1225.9 923.4" fill="none" stroke="#4472C4" stroke-width="15.6" stroke-linecap="round" stroke-linejoin="round"/>
<path d="M1283.4 820L1333.5 820L1335.1 836.7L1326.8 853.4L1326.8 870L1316.8 870L1306.8 853.4L1295.1 845L1286.8 836.7Z" fill="#4472C4" stroke="#4472C4" stroke-width="1" stroke-linejoin="round"/>
<path d="M1321.8 870L1323.4 886.7L1321.8 905.1L1321.8 920.1L1321.8 933.4" fill="none" stroke="#4472C4" stroke-width="15.6" stroke-linecap="round" stroke-linejoin="round"/>
<path d="M1340.1 820L1356.8 820L1361.8 833.3L1371.8 836.7L1373.5 853.4L1373.5 886.7L1393.5 890L1395.2 896.7L1390.2 901.7L1371.8 903.4L1366.8 910.1L1366.8 921.7L1360.1 925.1L1353.5 920.1L1350.1 906.7L1350.1 895.1L1343.5 870L1343.5 853.4L1340.1 836.7Z" fill="#4472C4" stroke="#4472C4" stroke-width="1" stroke-linejoin="round"/>
<path d="M1358.5 940.1L1357.6 950.1L1357.6 960.1" fill="none" stroke="#4472C4" stroke-width="15.6" stroke-linecap="round" stroke-linejoin="round"/>
<path d="M991.1 757a7.8 7.8 0 1 0 15.6 0a7.8 7.8 0 1 0 -15.6 0M991.1 773.1a7.8 7.8 0 1 0 15.6 0a7.8 7.8 0 1 0 -15.6 0M990.4 807.6a7.8 7.8 0 1 0 15.6 0a7.8 7.8 0 1 0 -15.6 0M1035.9 823.7a7.8 7.8 0 1 0 15.6 0a7.8 7.8 0 1 0 -15.6 0M1080.6 664a7.8 7.8 0 1 0 15.6 0a7.8 7.8 0 1 0 -15.6 0M1126.1 783.4a7.8 7.8 0 1 0 15.6 0a7.8 7.8 0 1 0 -15.6 0" fill="#4472C4"/>
<path d="M990.4 847.9a7.8 7.8 0 1 0 15.6 0a7.8 7.8 0 1 0 -15.6 0M990.4 875a7.8 7.8 0 1 0 15.6 0a7.8 7.8 0 1 0 -15.6 0M1126.1 839.1a7.8 7.8 0 1 0 15.6 0a7.8 7.8 0 1 0 -15.6 0M1134.9 850.1a7.8 7.8 0 1 0 15.6 0a7.8 7.8 0 1 0 -15.6 0" fill="#4472C4"/>
<path d="M980.5 884.3L988.3 899.5L972.7 899.5Z" fill="#ED7D31"/><path d="M980.5 889L984.8 897.3L976.3 897.3Z" fill="#FF0000"/>
<path d="M979.8 901.2L987.6 916.4L972 916.4Z" fill="#ED7D31"/><path d="M979.8 905.9L984.1 914.2L975.5 914.2Z" fill="#FF0000"/>
<path d="M995.2 901.9L1003 917.1L987.4 917.1Z" fill="#ED7D31"/><path d="M995.2 906.6L999.5 915L990.9 915Z" fill="#FF0000"/>
<path d="M981.3 918L989.1 933.2L973.5 933.2Z" fill="#ED7D31"/><path d="M981.3 922.7L985.6 931.1L977 931.1Z" fill="#FF0000"/>
<path d="M996.7 915.1L1004.5 930.3L988.9 930.3Z" fill="#ED7D31"/><path d="M996.7 919.8L1001 928.2L992.4 928.2Z" fill="#FF0000"/>
<path d="M981.3 927.6L989.1 942.8L973.5 942.8Z" fill="#ED7D31"/><path d="M981.3 932.3L985.6 940.6L977 940.6Z" fill="#FF0000"/>
<path d="M995.2 926.1L1003 941.3L987.4 941.3Z" fill="#ED7D31"/><path d="M995.2 930.8L999.5 939.2L990.9 939.2Z" fill="#FF0000"/>
<path d="M982.7 943L990.5 958.2L974.9 958.2Z" fill="#ED7D31"/><path d="M982.7 947.7L987 956.1L978.5 956.1Z" fill="#FF0000"/>
<path d="M979.1 953.3L986.9 968.5L971.3 968.5Z" fill="#ED7D31"/><path d="M979.1 958L983.4 966.3L974.8 966.3Z" fill="#FF0000"/>
<path d="M977.6 962.1L985.4 977.3L969.8 977.3Z" fill="#ED7D31"/><path d="M977.6 966.8L981.9 975.1L973.3 975.1Z" fill="#FF0000"/>
<path d="M974.7 957.7L982.5 972.9L966.9 972.9Z" fill="#ED7D31"/><path d="M974.7 962.4L979 970.7L970.4 970.7Z" fill="#FF0000"/>
<path d="M974.7 951.8L982.5 967L966.9 967Z" fill="#ED7D31"/><path d="M974.7 956.5L979 964.9L970.4 964.9Z" fill="#FF0000"/>
<path d="M1025.3 897.5L1033.1 912.7L1017.5 912.7Z" fill="#ED7D31"/><path d="M1025.3 902.2L1029.6 910.6L1021 910.6Z" fill="#FF0000"/>
<path d="M1028.2 904.8L1036 920L1020.4 920Z" fill="#ED7D31"/><path d="M1028.2 909.5L1032.5 917.9L1024 917.9Z" fill="#FF0000"/>
<path d="M1033.4 904.8L1041.2 920L1025.6 920Z" fill="#ED7D31"/><path d="M1033.4 909.5L1037.7 917.9L1029.1 917.9Z" fill="#FF0000"/>
<path d="M1034.9 917.3L1042.7 932.5L1027.1 932.5Z" fill="#ED7D31"/><path d="M1034.9 922L1039.1 930.4L1030.6 930.4Z" fill="#FF0000"/>
<path d="M1033.4 928.3L1041.2 943.5L1025.6 943.5Z" fill="#ED7D31"/><path d="M1033.4 933L1037.7 941.4L1029.1 941.4Z" fill="#FF0000"/>
<path d="M1036.3 935.7L1044.1 950.9L1028.5 950.9Z" fill="#ED7D31"/><path d="M1036.3 940.4L1040.6 948.7L1032 948.7Z" fill="#FF0000"/>
<path d="M1040.7 940.8L1048.5 956L1032.9 956Z" fill="#ED7D31"/><path d="M1040.7 945.5L1045 953.9L1036.4 953.9Z" fill="#FF0000"/>
<path d="M1035.6 943L1043.4 958.2L1027.8 958.2Z" fill="#ED7D31"/><path d="M1035.6 947.7L1039.9 956.1L1031.3 956.1Z" fill="#FF0000"/>
<path d="M1144.9 867.4L1152.7 882.6L1137.1 882.6Z" fill="#ED7D31"/><path d="M1144.9 872.1L1149.2 880.5L1140.6 880.5Z" fill="#FF0000"/>
<path d="M1144.9 878.4L1152.7 893.6L1137.1 893.6Z" fill="#ED7D31"/><path d="M1144.9 883.1L1149.2 891.5L1140.6 891.5Z" fill="#FF0000"/>
<path d="M1151.5 887.2L1159.3 902.4L1143.7 902.4Z" fill="#ED7D31"/><path d="M1151.5 891.9L1155.8 900.3L1147.2 900.3Z" fill="#FF0000"/>
<path d="M1144.9 891.6L1152.7 906.8L1137.1 906.8Z" fill="#ED7D31"/><path d="M1144.9 896.3L1149.2 904.7L1140.6 904.7Z" fill="#FF0000"/>
<path d="M1156.7 903.4L1164.5 918.6L1148.9 918.6Z" fill="#ED7D31"/><path d="M1156.7 908.1L1161 916.4L1152.4 916.4Z" fill="#FF0000"/>
<path d="M1155.2 913.6L1163 928.8L1147.4 928.8Z" fill="#ED7D31"/><path d="M1155.2 918.3L1159.5 926.7L1150.9 926.7Z" fill="#FF0000"/>
<path d="M1133.9 915.8L1141.7 931L1126.1 931Z" fill="#ED7D31"/><path d="M1133.9 920.5L1138.2 928.9L1129.6 928.9Z" fill="#FF0000"/>
<path d="M1155.2 931.2L1163 946.4L1147.4 946.4Z" fill="#ED7D31"/><path d="M1155.2 936L1159.5 944.3L1150.9 944.3Z" fill="#FF0000"/>
<path d="M1140.5 941.5L1148.3 956.7L1132.7 956.7Z" fill="#ED7D31"/><path d="M1140.5 946.2L1144.8 954.6L1136.2 954.6Z" fill="#FF0000"/>
<path d="M1155.2 942.3L1163 957.5L1147.4 957.5Z" fill="#ED7D31"/><path d="M1155.2 947L1159.5 955.3L1150.9 955.3Z" fill="#FF0000"/>
<path d="M1139.8 957.7L1147.6 972.9L1132 972.9Z" fill="#ED7D31"/><path d="M1139.8 962.4L1144.1 970.7L1135.5 970.7Z" fill="#FF0000"/>
<path d="M312 1230.6L325.9 1223.7L338.1 1227.1L350.2 1230.6L357.1 1235.8L350.2 1242.8L360.6 1246.2L371 1248L378 1253.2L371 1260.1L374.5 1267L383.2 1268.8L395.3 1267L402.2 1272.2L391.8 1277.4L384.9 1280.9L384.9 1289.6L395.3 1293.1L404 1298.3L412.6 1300L421.3 1303.5L430 1312.1L435.2 1319.1L443.9 1329.5L450.8 1338.2L454.3 1346.8L464.7 1352L473.4 1360.7L480.3 1365.9L487.2 1367.6L495.9 1372.8L506.3 1378.1L516.7 1381.5L520 1388.5L520 1397.1L509.8 1398.9L499.4 1395.4L492.4 1393.7L494.2 1402.3L499.4 1411L506.3 1417.9L520 1419.7L520 1425.1L419.6 1425.1L416.1 1419.7L391.8 1419.7L381.4 1414.5L374.5 1405.8L371 1397.1L364.1 1386.7L353.7 1379.8L345 1376.3L334.6 1371.1L325.9 1362.4L329.4 1353.8L322.4 1345.1L317.2 1336.4L308.6 1327.7L299.9 1322.5L294.7 1315.6L298.2 1305.2L291.2 1298.3L282.5 1293.1L287.8 1286.1L294.7 1282.6L296.4 1272.2L303.4 1265.3L308.6 1256.6L310.3 1249.7L310.3 1239.3Z" fill="#4472C4" stroke="#4472C4" stroke-width="1" stroke-linejoin="round"/>
<path d="M510.7 1417.4L514.5 1398.7L521.9 1387.5L529.4 1385.6L535 1398.7L540.6 1409.9L536.9 1419.2L550 1424.8L548.1 1436L544.4 1447.2L540.6 1454.7L538.8 1464L548.1 1460.3L555.6 1458.4L566.8 1462.2L581.7 1462.2L594.8 1465.9L600.4 1477.1L604.1 1484.6L615.3 1486.5L630.3 1482.7L641.5 1484.6L645.2 1495.8L634 1499.5L626.5 1510.7L628.4 1518.2L637.8 1525.7L630.3 1533.2L619.1 1529.4L607.9 1525.7L598.5 1529.4L589.2 1527.6L581.7 1521.9L578 1525.7L576.1 1538.8L566.8 1542.5L559.3 1553.7L548.1 1551.8L538.8 1555.6L529.4 1551.8L518.2 1559.3L510.7 1559.3Z" fill="#4472C4" stroke="#4472C4" stroke-width="1" stroke-linejoin="round"/>
<path d="M380 1535L510.7 1535L510.7 1559.3L507 1557.4L492.1 1564.9L477.1 1566.8L465.9 1559.3L451 1555.6L436 1553.7L421.1 1553.7L408 1553.7L400.5 1555.6L393.1 1548.1L383.7 1544.4L380 1542.5Z" fill="#4472C4" stroke="#4472C4" stroke-width="1" stroke-linejoin="round"/>
<path d="M340 1360L472.1 1360L479.3 1367.2L481.7 1384L490.1 1391.2L496.1 1405.6L502.1 1417.6L510.5 1417.6L520 1411.6L520 1540L418 1540L419.3 1522.1L426.5 1511.3L436.1 1504.1L448.1 1504.1L457.7 1512.5L460.1 1510.1L454.1 1501.7L448.1 1496.9L436.1 1495.7L428.9 1490.9L424.1 1487.3L421.7 1475.3L420.5 1465.7L424.1 1459.7L431.3 1453.7L426.5 1442.9L419.3 1434.4L418 1422.4L412 1420L404.8 1417.6L395.2 1417.6L385.6 1410.4L378.4 1405.6L372.4 1391.2L367.6 1384L359.2 1376.8L347.2 1375.6L340 1376.8Z" fill="#4472C4" stroke="#4472C4" stroke-width="1" stroke-linejoin="round"/>
<path d="M373.6 1525.7L382 1514.9L394 1507.7L407.2 1506.5L416.8 1507.7L424.1 1512.5L419.3 1522.1L418 1540L373.6 1540Z" fill="#4472C4" stroke="#4472C4" stroke-width="1" stroke-linejoin="round"/>
<path d="M399.6 1261.8a7.8 7.8 0 1 0 15.6 0a7.8 7.8 0 1 0 -15.6 0M425.7 1274.8a7.8 7.8 0 1 0 15.6 0a7.8 7.8 0 1 0 -15.6 0M462.1 1274.8a7.8 7.8 0 1 0 15.6 0a7.8 7.8 0 1 0 -15.6 0M399.6 1292.2a7.8 7.8 0 1 0 15.6 0a7.8 7.8 0 1 0 -15.6 0M421.3 1296.5a7.8 7.8 0 1 0 15.6 0a7.8 7.8 0 1 0 -15.6 0M430.9 1292.2a7.8 7.8 0 1 0 15.6 0a7.8 7.8 0 1 0 -15.6 0M444.7 1300.9a7.8 7.8 0 1 0 15.6 0a7.8 7.8 0 1 0 -15.6 0M449.9 1303.5a7.8 7.8 0 1 0 15.6 0a7.8 7.8 0 1 0 -15.6 0M454.3 1331.2a7.8 7.8 0 1 0 15.6 0a7.8 7.8 0 1 0 -15.6 0M454.3 1353.8a7.8 7.8 0 1 0 15.6 0a7.8 7.8 0 1 0 -15.6 0M467.3 1365.9a7.8 7.8 0 1 0 15.6 0a7.8 7.8 0 1 0 -15.6 0M481.2 1371.1a7.8 7.8 0 1 0 15.6 0a7.8 7.8 0 1 0 -15.6 0M491.6 1378.1a7.8 7.8 0 1 0 15.6 0a7.8 7.8 0 1 0 -15.6 0M503.7 1384.1a7.8 7.8 0 1 0 15.6 0a7.8 7.8 0 1 0 -15.6 0M496.8 1409.3a7.8 7.8 0 1 0 15.6 0a7.8 7.8 0 1 0 -15.6 0M505.5 1421.4a7.8 7.8 0 1 0 15.6 0a7.8 7.8 0 1 0 -15.6 0M512.2 1364.2a7.8 7.8 0 1 0 15.6 0a7.8 7.8 0 1 0 -15.6 0M270.4 1331.2a7.8 7.8 0 1 0 15.6 0a7.8 7.8 0 1 0 -15.6 0M281.7 1330.4a7.8 7.8 0 1 0 15.6 0a7.8 7.8 0 1 0 -15.6 0M276.5 1353.8a7.8 7.8 0 1 0 15.6 0a7.8 7.8 0 1 0 -15.6 0M282.6 1394.5a7.8 7.8 0 1 0 15.6 0a7.8 7.8 0 1 0 -15.6 0M312 1348.6a7.8 7.8 0 1 0 15.6 0a7.8 7.8 0 1 0 -15.6 0M317.2 1363.3a7.8 7.8 0 1 0 15.6 0a7.8 7.8 0 1 0 -15.6 0M325.1 1386.7a7.8 7.8 0 1 0 15.6 0a7.8 7.8 0 1 0 -15.6 0M333.7 1393.7a7.8 7.8 0 1 0 15.6 0a7.8 7.8 0 1 0 -15.6 0M342.4 1392.8a7.8 7.8 0 1 0 15.6 0a7.8 7.8 0 1 0 -15.6 0M356.3 1395.4a7.8 7.8 0 1 0 15.6 0a7.8 7.8 0 1 0 -15.6 0M356.3 1402.3a7.8 7.8 0 1 0 15.6 0a7.8 7.8 0 1 0 -15.6 0M349.3 1421.4a7.8 7.8 0 1 0 15.6 0a7.8 7.8 0 1 0 -15.6 0M358 1418.8a7.8 7.8 0 1 0 15.6 0a7.8 7.8 0 1 0 -15.6 0M377.1 1417.9a7.8 7.8 0 1 0 15.6 0a7.8 7.8 0 1 0 -15.6 0M384 1272.2a7.8 7.8 0 1 0 15.6 0a7.8 7.8 0 1 0 -15.6 0M378.8 1272.2a7.8 7.8 0 1 0 15.6 0a7.8 7.8 0 1 0 -15.6 0M364.9 1253.2a7.8 7.8 0 1 0 15.6 0a7.8 7.8 0 1 0 -15.6 0M344.1 1235.8a7.8 7.8 0 1 0 15.6 0a7.8 7.8 0 1 0 -15.6 0" fill="#4472C4"/>
<path d="M572.1 1392.1a7.8 7.8 0 1 0 15.6 0a7.8 7.8 0 1 0 -15.6 0M604.7 1398.7a7.8 7.8 0 1 0 15.6 0a7.8 7.8 0 1 0 -15.6 0M561.8 1411.8a7.8 7.8 0 1 0 15.6 0a7.8 7.8 0 1 0 -15.6 0M553.4 1423a7.8 7.8 0 1 0 15.6 0a7.8 7.8 0 1 0 -15.6 0M585.1 1424.8a7.8 7.8 0 1 0 15.6 0a7.8 7.8 0 1 0 -15.6 0M597.3 1432.3a7.8 7.8 0 1 0 15.6 0a7.8 7.8 0 1 0 -15.6 0M611.3 1465.9a7.8 7.8 0 1 0 15.6 0a7.8 7.8 0 1 0 -15.6 0M601 1477.1a7.8 7.8 0 1 0 15.6 0a7.8 7.8 0 1 0 -15.6 0M645.8 1495.8a7.8 7.8 0 1 0 15.6 0a7.8 7.8 0 1 0 -15.6 0M641.2 1510.7a7.8 7.8 0 1 0 15.6 0a7.8 7.8 0 1 0 -15.6 0M583.3 1525.7a7.8 7.8 0 1 0 15.6 0a7.8 7.8 0 1 0 -15.6 0M599.1 1544.4a7.8 7.8 0 1 0 15.6 0a7.8 7.8 0 1 0 -15.6 0M613.1 1557.4a7.8 7.8 0 1 0 15.6 0a7.8 7.8 0 1 0 -15.6 0M615 1563a7.8 7.8 0 1 0 15.6 0a7.8 7.8 0 1 0 -15.6 0M396.5 1572.4a7.8 7.8 0 1 0 15.6 0a7.8 7.8 0 1 0 -15.6 0M405.8 1579.9a7.8 7.8 0 1 0 15.6 0a7.8 7.8 0 1 0 -15.6 0M418.9 1576.1a7.8 7.8 0 1 0 15.6 0a7.8 7.8 0 1 0 -15.6 0M505.7 1559.3a7.8 7.8 0 1 0 15.6 0a7.8 7.8 0 1 0 -15.6 0M527.2 1553.7a7.8 7.8 0 1 0 15.6 0a7.8 7.8 0 1 0 -15.6 0M469.3 1563a7.8 7.8 0 1 0 15.6 0a7.8 7.8 0 1 0 -15.6 0M478.7 1564.9a7.8 7.8 0 1 0 15.6 0a7.8 7.8 0 1 0 -15.6 0M405.8 1497.7a7.8 7.8 0 1 0 15.6 0a7.8 7.8 0 1 0 -15.6 0M383.4 1460.3a7.8 7.8 0 1 0 15.6 0a7.8 7.8 0 1 0 -15.6 0M390.9 1452.8a7.8 7.8 0 1 0 15.6 0a7.8 7.8 0 1 0 -15.6 0M375.9 1480.9a7.8 7.8 0 1 0 15.6 0a7.8 7.8 0 1 0 -15.6 0M514.1 1387.5a7.8 7.8 0 1 0 15.6 0a7.8 7.8 0 1 0 -15.6 0M495.5 1408a7.8 7.8 0 1 0 15.6 0a7.8 7.8 0 1 0 -15.6 0M557.1 1381.9a7.8 7.8 0 1 0 15.6 0a7.8 7.8 0 1 0 -15.6 0" fill="#4472C4"/>
<path d="M197.2 1466.1a7.8 7.8 0 1 0 15.6 0a7.8 7.8 0 1 0 -15.6 0M214.6 1469.9a7.8 7.8 0 1 0 15.6 0a7.8 7.8 0 1 0 -15.6 0M185.1 1481.2a7.8 7.8 0 1 0 15.6 0a7.8 7.8 0 1 0 -15.6 0M273.6 1461.2a7.8 7.8 0 1 0 15.6 0a7.8 7.8 0 1 0 -15.6 0M346.4 1434.3a7.8 7.8 0 1 0 15.6 0a7.8 7.8 0 1 0 -15.6 0M329.9 1445.6a7.8 7.8 0 1 0 15.6 0a7.8 7.8 0 1 0 -15.6 0M337.8 1455.2a7.8 7.8 0 1 0 15.6 0a7.8 7.8 0 1 0 -15.6 0M357.7 1461.2a7.8 7.8 0 1 0 15.6 0a7.8 7.8 0 1 0 -15.6 0M368.1 1473.4a7.8 7.8 0 1 0 15.6 0a7.8 7.8 0 1 0 -15.6 0M371.6 1482a7.8 7.8 0 1 0 15.6 0a7.8 7.8 0 1 0 -15.6 0M375 1485.5a7.8 7.8 0 1 0 15.6 0a7.8 7.8 0 1 0 -15.6 0M382 1435.2a7.8 7.8 0 1 0 15.6 0a7.8 7.8 0 1 0 -15.6 0M388.9 1452.5a7.8 7.8 0 1 0 15.6 0a7.8 7.8 0 1 0 -15.6 0M383.7 1461.2a7.8 7.8 0 1 0 15.6 0a7.8 7.8 0 1 0 -15.6 0M390.7 1481.2a7.8 7.8 0 1 0 15.6 0a7.8 7.8 0 1 0 -15.6 0M304.8 1489a7.8 7.8 0 1 0 15.6 0a7.8 7.8 0 1 0 -15.6 0M335.1 1493.3a7.8 7.8 0 1 0 15.6 0a7.8 7.8 0 1 0 -15.6 0M262.3 1523.7a7.8 7.8 0 1 0 15.6 0a7.8 7.8 0 1 0 -15.6 0M269.2 1521.1a7.8 7.8 0 1 0 15.6 0a7.8 7.8 0 1 0 -15.6 0M310 1515a7.8 7.8 0 1 0 15.6 0a7.8 7.8 0 1 0 -15.6 0M309.1 1523.7a7.8 7.8 0 1 0 15.6 0a7.8 7.8 0 1 0 -15.6 0M326.5 1518.5a7.8 7.8 0 1 0 15.6 0a7.8 7.8 0 1 0 -15.6 0M341.2 1521.1a7.8 7.8 0 1 0 15.6 0a7.8 7.8 0 1 0 -15.6 0M351.6 1520.2a7.8 7.8 0 1 0 15.6 0a7.8 7.8 0 1 0 -15.6 0M329.1 1534.9a7.8 7.8 0 1 0 15.6 0a7.8 7.8 0 1 0 -15.6 0M288.3 1530.6a7.8 7.8 0 1 0 15.6 0a7.8 7.8 0 1 0 -15.6 0M315.2 1546.2a7.8 7.8 0 1 0 15.6 0a7.8 7.8 0 1 0 -15.6 0M305.7 1549.7a7.8 7.8 0 1 0 15.6 0a7.8 7.8 0 1 0 -15.6 0M362.9 1561a7.8 7.8 0 1 0 15.6 0a7.8 7.8 0 1 0 -15.6 0M375 1520.2a7.8 7.8 0 1 0 15.6 0a7.8 7.8 0 1 0 -15.6 0M371.6 1530.6a7.8 7.8 0 1 0 15.6 0a7.8 7.8 0 1 0 -15.6 0M375 1541a7.8 7.8 0 1 0 15.6 0a7.8 7.8 0 1 0 -15.6 0M388.9 1511.5a7.8 7.8 0 1 0 15.6 0a7.8 7.8 0 1 0 -15.6 0M390.7 1551.4a7.8 7.8 0 1 0 15.6 0a7.8 7.8 0 1 0 -15.6 0M390.7 1572.2a7.8 7.8 0 1 0 15.6 0a7.8 7.8 0 1 0 -15.6 0" fill="#4472C4"/>
<path d="M538.6 1296.7a7.8 7.8 0 1 0 15.6 0a7.8 7.8 0 1 0 -15.6 0M596.3 1320.7a7.8 7.8 0 1 0 15.6 0a7.8 7.8 0 1 0 -15.6 0M514.9 1364.1a7.8 7.8 0 1 0 15.6 0a7.8 7.8 0 1 0 -15.6 0M557.6 1378.1a7.8 7.8 0 1 0 15.6 0a7.8 7.8 0 1 0 -15.6 0M572.3 1392.1a7.8 7.8 0 1 0 15.6 0a7.8 7.8 0 1 0 -15.6 0M612.9 1373.1a7.8 7.8 0 1 0 15.6 0a7.8 7.8 0 1 0 -15.6 0M604.9 1399.4a7.8 7.8 0 1 0 15.6 0a7.8 7.8 0 1 0 -15.6 0M562.2 1411.4a7.8 7.8 0 1 0 15.6 0a7.8 7.8 0 1 0 -15.6 0M524.2 1404.1a7.8 7.8 0 1 0 15.6 0a7.8 7.8 0 1 0 -15.6 0M525.6 1410.8a7.8 7.8 0 1 0 15.6 0a7.8 7.8 0 1 0 -15.6 0M517.6 1388.1a7.8 7.8 0 1 0 15.6 0a7.8 7.8 0 1 0 -15.6 0M504.2 1384.1a7.8 7.8 0 1 0 15.6 0a7.8 7.8 0 1 0 -15.6 0M494.9 1377.4a7.8 7.8 0 1 0 15.6 0a7.8 7.8 0 1 0 -15.6 0M509.5 1396.1a7.8 7.8 0 1 0 15.6 0a7.8 7.8 0 1 0 -15.6 0M496.2 1409.4a7.8 7.8 0 1 0 15.6 0a7.8 7.8 0 1 0 -15.6 0" fill="#4472C4"/>
<path d="M605.3 1401.6a7.8 7.8 0 1 0 15.6 0a7.8 7.8 0 1 0 -15.6 0M562.6 1411.7a7.8 7.8 0 1 0 15.6 0a7.8 7.8 0 1 0 -15.6 0M537.5 1425.6a7.8 7.8 0 1 0 15.6 0a7.8 7.8 0 1 0 -15.6 0M553.5 1422.9a7.8 7.8 0 1 0 15.6 0a7.8 7.8 0 1 0 -15.6 0M585 1425.6a7.8 7.8 0 1 0 15.6 0a7.8 7.8 0 1 0 -15.6 0M597.3 1432a7.8 7.8 0 1 0 15.6 0a7.8 7.8 0 1 0 -15.6 0M568.5 1434.2a7.8 7.8 0 1 0 15.6 0a7.8 7.8 0 1 0 -15.6 0M542.9 1444.8a7.8 7.8 0 1 0 15.6 0a7.8 7.8 0 1 0 -15.6 0M558.9 1451.2a7.8 7.8 0 1 0 15.6 0a7.8 7.8 0 1 0 -15.6 0M611.2 1465.6a7.8 7.8 0 1 0 15.6 0a7.8 7.8 0 1 0 -15.6 0M601.6 1476.8a7.8 7.8 0 1 0 15.6 0a7.8 7.8 0 1 0 -15.6 0M645.3 1496.1a7.8 7.8 0 1 0 15.6 0a7.8 7.8 0 1 0 -15.6 0M641.1 1511a7.8 7.8 0 1 0 15.6 0a7.8 7.8 0 1 0 -15.6 0M583.4 1526.5a7.8 7.8 0 1 0 15.6 0a7.8 7.8 0 1 0 -15.6 0M596.2 1523.8a7.8 7.8 0 1 0 15.6 0a7.8 7.8 0 1 0 -15.6 0M612.3 1530.2a7.8 7.8 0 1 0 15.6 0a7.8 7.8 0 1 0 -15.6 0M626.1 1527a7.8 7.8 0 1 0 15.6 0a7.8 7.8 0 1 0 -15.6 0M618.7 1542a7.8 7.8 0 1 0 15.6 0a7.8 7.8 0 1 0 -15.6 0M614.4 1554.8a7.8 7.8 0 1 0 15.6 0a7.8 7.8 0 1 0 -15.6 0M600 1545.2a7.8 7.8 0 1 0 15.6 0a7.8 7.8 0 1 0 -15.6 0M547.1 1551.6a7.8 7.8 0 1 0 15.6 0a7.8 7.8 0 1 0 -15.6 0M556.7 1546.2a7.8 7.8 0 1 0 15.6 0a7.8 7.8 0 1 0 -15.6 0M565.3 1536.6a7.8 7.8 0 1 0 15.6 0a7.8 7.8 0 1 0 -15.6 0" fill="#4472C4"/>
<path d="M341.8 1392.4a7.8 7.8 0 1 0 15.6 0a7.8 7.8 0 1 0 -15.6 0M356.2 1399.6a7.8 7.8 0 1 0 15.6 0a7.8 7.8 0 1 0 -15.6 0M347.8 1422.4a7.8 7.8 0 1 0 15.6 0a7.8 7.8 0 1 0 -15.6 0M356.2 1420a7.8 7.8 0 1 0 15.6 0a7.8 7.8 0 1 0 -15.6 0M345.4 1433.2a7.8 7.8 0 1 0 15.6 0a7.8 7.8 0 1 0 -15.6 0M376.6 1421.2a7.8 7.8 0 1 0 15.6 0a7.8 7.8 0 1 0 -15.6 0M385 1433.2a7.8 7.8 0 1 0 15.6 0a7.8 7.8 0 1 0 -15.6 0M391 1423.6a7.8 7.8 0 1 0 15.6 0a7.8 7.8 0 1 0 -15.6 0M401.8 1424.8a7.8 7.8 0 1 0 15.6 0a7.8 7.8 0 1 0 -15.6 0M389.8 1451.3a7.8 7.8 0 1 0 15.6 0a7.8 7.8 0 1 0 -15.6 0M383.8 1460.9a7.8 7.8 0 1 0 15.6 0a7.8 7.8 0 1 0 -15.6 0M357.4 1460.9a7.8 7.8 0 1 0 15.6 0a7.8 7.8 0 1 0 -15.6 0M332.2 1446.5a7.8 7.8 0 1 0 15.6 0a7.8 7.8 0 1 0 -15.6 0M338.2 1454.9a7.8 7.8 0 1 0 15.6 0a7.8 7.8 0 1 0 -15.6 0M368.2 1472.9a7.8 7.8 0 1 0 15.6 0a7.8 7.8 0 1 0 -15.6 0M374.2 1483.7a7.8 7.8 0 1 0 15.6 0a7.8 7.8 0 1 0 -15.6 0M394.6 1481.3a7.8 7.8 0 1 0 15.6 0a7.8 7.8 0 1 0 -15.6 0M404.2 1481.3a7.8 7.8 0 1 0 15.6 0a7.8 7.8 0 1 0 -15.6 0M335.8 1493.3a7.8 7.8 0 1 0 15.6 0a7.8 7.8 0 1 0 -15.6 0M404.2 1496.9a7.8 7.8 0 1 0 15.6 0a7.8 7.8 0 1 0 -15.6 0M421.1 1502.9a7.8 7.8 0 1 0 15.6 0a7.8 7.8 0 1 0 -15.6 0M339.4 1520.9a7.8 7.8 0 1 0 15.6 0a7.8 7.8 0 1 0 -15.6 0M351.4 1519.7a7.8 7.8 0 1 0 15.6 0a7.8 7.8 0 1 0 -15.6 0M376.6 1520.9a7.8 7.8 0 1 0 15.6 0a7.8 7.8 0 1 0 -15.6 0M388.6 1511.3a7.8 7.8 0 1 0 15.6 0a7.8 7.8 0 1 0 -15.6 0M371.8 1530.5a7.8 7.8 0 1 0 15.6 0a7.8 7.8 0 1 0 -15.6 0M495.5 1409.2a7.8 7.8 0 1 0 15.6 0a7.8 7.8 0 1 0 -15.6 0M481.1 1369.6a7.8 7.8 0 1 0 15.6 0a7.8 7.8 0 1 0 -15.6 0M491.9 1376.8a7.8 7.8 0 1 0 15.6 0a7.8 7.8 0 1 0 -15.6 0M502.7 1382.8a7.8 7.8 0 1 0 15.6 0a7.8 7.8 0 1 0 -15.6 0M508.7 1388.8a7.8 7.8 0 1 0 15.6 0a7.8 7.8 0 1 0 -15.6 0M511.1 1364.8a7.8 7.8 0 1 0 15.6 0a7.8 7.8 0 1 0 -15.6 0" fill="#4472C4"/>
<path d="M454.7 1453.1L462.5 1468.3L446.9 1468.3Z" fill="#ED7D31"/><path d="M454.7 1457.8L459 1466.1L450.4 1466.1Z" fill="#FF0000"/>
<path d="M484.6 1462.4L492.4 1477.6L476.8 1477.6Z" fill="#ED7D31"/><path d="M484.6 1467.1L488.9 1475.5L480.3 1475.5Z" fill="#FF0000"/>
<path d="M514.5 1475.5L522.3 1490.7L506.7 1490.7Z" fill="#ED7D31"/><path d="M514.5 1480.2L518.8 1488.6L510.2 1488.6Z" fill="#FF0000"/>
<path d="M526.6 1473.6L534.4 1488.8L518.8 1488.8Z" fill="#ED7D31"/><path d="M526.6 1478.3L530.9 1486.7L522.3 1486.7Z" fill="#FF0000"/>
<path d="M554.6 1483L562.4 1498.2L546.8 1498.2Z" fill="#ED7D31"/><path d="M554.6 1487.7L558.9 1496L550.3 1496Z" fill="#FF0000"/>
<path d="M576.1 1488.6L583.9 1503.8L568.3 1503.8Z" fill="#ED7D31"/><path d="M576.1 1493.3L580.4 1501.6L571.8 1501.6Z" fill="#FF0000"/>
<path d="M584.5 1487.6L592.3 1502.8L576.7 1502.8Z" fill="#ED7D31"/><path d="M584.5 1492.3L588.8 1500.7L580.2 1500.7Z" fill="#FF0000"/>
<path d="M574.2 1494.2L582 1509.4L566.4 1509.4Z" fill="#ED7D31"/><path d="M574.2 1498.9L578.5 1507.2L570 1507.2Z" fill="#FF0000"/>
<path d="M601.3 1497.9L609.1 1513.1L593.5 1513.1Z" fill="#ED7D31"/><path d="M601.3 1502.6L605.6 1511L597 1511Z" fill="#FF0000"/>
<path d="M622.8 1498.8L630.6 1514L615 1514Z" fill="#ED7D31"/><path d="M622.8 1503.5L627.1 1511.9L618.5 1511.9Z" fill="#FF0000"/>
<path d="M634 1511L641.8 1526.2L626.2 1526.2Z" fill="#ED7D31"/><path d="M634 1515.7L638.3 1524L629.7 1524Z" fill="#FF0000"/>
<path d="M561.2 1501.6L569 1516.8L553.4 1516.8Z" fill="#ED7D31"/><path d="M561.2 1506.4L565.5 1514.7L556.9 1514.7Z" fill="#FF0000"/>
<path d="M477.1 1490.4L484.9 1505.6L469.3 1505.6Z" fill="#ED7D31"/><path d="M477.1 1495.1L481.4 1503.5L472.8 1503.5Z" fill="#FF0000"/>
<path d="M471.5 1491.4L479.3 1506.6L463.7 1506.6Z" fill="#ED7D31"/><path d="M471.5 1496.1L475.8 1504.4L467.2 1504.4Z" fill="#FF0000"/>
<path d="M479 1504.4L486.8 1519.6L471.2 1519.6Z" fill="#ED7D31"/><path d="M479 1509.2L483.3 1517.5L474.7 1517.5Z" fill="#FF0000"/>
<path d="M492.1 1501.6L499.9 1516.8L484.3 1516.8Z" fill="#ED7D31"/><path d="M492.1 1506.4L496.4 1514.7L487.8 1514.7Z" fill="#FF0000"/>
<path d="M493.9 1509.1L501.7 1524.3L486.1 1524.3Z" fill="#ED7D31"/><path d="M493.9 1513.8L498.2 1522.2L489.6 1522.2Z" fill="#FF0000"/>
<path d="M503.3 1498.8L511.1 1514L495.5 1514Z" fill="#ED7D31"/><path d="M503.3 1503.5L507.6 1511.9L499 1511.9Z" fill="#FF0000"/>
<path d="M508.9 1501.6L516.7 1516.8L501.1 1516.8Z" fill="#ED7D31"/><path d="M508.9 1506.4L513.2 1514.7L504.6 1514.7Z" fill="#FF0000"/>
<path d="M499.5 1518.5L507.3 1533.7L491.7 1533.7Z" fill="#ED7D31"/><path d="M499.5 1523.2L503.8 1531.5L495.2 1531.5Z" fill="#FF0000"/>
<path d="M510.7 1512.8L518.5 1528L502.9 1528Z" fill="#ED7D31"/><path d="M510.7 1517.6L515 1525.9L506.5 1525.9Z" fill="#FF0000"/>
<path d="M521.9 1514.7L529.7 1529.9L514.1 1529.9Z" fill="#ED7D31"/><path d="M521.9 1519.4L526.2 1527.8L517.7 1527.8Z" fill="#FF0000"/>
<path d="M525.7 1497.9L533.5 1513.1L517.9 1513.1Z" fill="#ED7D31"/><path d="M525.7 1502.6L530 1511L521.4 1511Z" fill="#FF0000"/>
<path d="M530.4 1499.8L538.2 1515L522.6 1515Z" fill="#ED7D31"/><path d="M530.4 1504.5L534.6 1512.8L526.1 1512.8Z" fill="#FF0000"/>
<path d="M533.2 1514.7L541 1529.9L525.4 1529.9Z" fill="#ED7D31"/><path d="M533.2 1519.4L537.4 1527.8L528.9 1527.8Z" fill="#FF0000"/>
<path d="M535 1518.5L542.8 1533.7L527.2 1533.7Z" fill="#ED7D31"/><path d="M535 1523.2L539.3 1531.5L530.7 1531.5Z" fill="#FF0000"/>
<path d="M543.4 1516.6L551.2 1531.8L535.6 1531.8Z" fill="#ED7D31"/><path d="M543.4 1521.3L547.7 1529.7L539.1 1529.7Z" fill="#FF0000"/>
<path d="M544.4 1524.1L552.2 1539.3L536.6 1539.3Z" fill="#ED7D31"/><path d="M544.4 1528.8L548.7 1537.1L540.1 1537.1Z" fill="#FF0000"/>
<path d="M556.5 1525L564.3 1540.2L548.7 1540.2Z" fill="#ED7D31"/><path d="M556.5 1529.7L560.8 1538.1L552.2 1538.1Z" fill="#FF0000"/>
<path d="M564.9 1525.9L572.7 1541.1L557.1 1541.1Z" fill="#ED7D31"/><path d="M564.9 1530.6L569.2 1539L560.6 1539Z" fill="#FF0000"/>
<path d="M460.3 1525.9L468.1 1541.1L452.5 1541.1Z" fill="#ED7D31"/><path d="M460.3 1530.6L464.6 1539L456 1539Z" fill="#FF0000"/>
<path d="M467.8 1527.8L475.6 1543L460 1543Z" fill="#ED7D31"/><path d="M467.8 1532.5L472.1 1540.9L463.5 1540.9Z" fill="#FF0000"/>
<path d="M450 1541.8L457.8 1557L442.2 1557Z" fill="#ED7D31"/><path d="M450 1546.5L454.3 1554.9L445.8 1554.9Z" fill="#FF0000"/>
<path d="M465.9 1540.9L473.7 1556.1L458.1 1556.1Z" fill="#ED7D31"/><path d="M465.9 1545.6L470.2 1553.9L461.6 1553.9Z" fill="#FF0000"/>
<path d="M486.5 1542.7L494.3 1557.9L478.7 1557.9Z" fill="#ED7D31"/><path d="M486.5 1547.4L490.8 1555.8L482.2 1555.8Z" fill="#FF0000"/>
<path d="M395.9 1534.3L403.7 1549.5L388.1 1549.5Z" fill="#ED7D31"/><path d="M395.9 1539L400.2 1547.4L391.6 1547.4Z" fill="#FF0000"/>
<path d="M179 1487.7L186.8 1502.9L171.2 1502.9Z" fill="#ED7D31"/><path d="M179 1492.4L183.3 1500.7L174.7 1500.7Z" fill="#FF0000"/>
<path d="M167.8 1510.2L175.6 1525.4L160 1525.4Z" fill="#ED7D31"/><path d="M167.8 1514.9L172 1523.3L163.5 1523.3Z" fill="#FF0000"/>
<path d="M195.5 1521.5L203.3 1536.7L187.7 1536.7Z" fill="#ED7D31"/><path d="M195.5 1526.2L199.8 1534.6L191.2 1534.6Z" fill="#FF0000"/>
<path d="M238 1538L245.8 1553.2L230.2 1553.2Z" fill="#ED7D31"/><path d="M238 1542.7L242.3 1551.1L233.7 1551.1Z" fill="#FF0000"/>
<path d="M315.2 1470.3L323 1485.5L307.4 1485.5Z" fill="#ED7D31"/><path d="M315.2 1475L319.5 1483.4L310.9 1483.4Z" fill="#FF0000"/>
<path d="M330.8 1486.8L338.6 1502L323 1502Z" fill="#ED7D31"/><path d="M330.8 1491.5L335.1 1499.9L326.5 1499.9Z" fill="#FF0000"/>
<path d="M294.4 1502.4L302.2 1517.6L286.6 1517.6Z" fill="#ED7D31"/><path d="M294.4 1507.1L298.7 1515.5L290.1 1515.5Z" fill="#FF0000"/>
<path d="M302.2 1502.4L310 1517.6L294.4 1517.6Z" fill="#ED7D31"/><path d="M302.2 1507.1L306.5 1515.5L297.9 1515.5Z" fill="#FF0000"/>
<path d="M290.9 1514.6L298.7 1529.8L283.1 1529.8Z" fill="#ED7D31"/><path d="M290.9 1519.3L295.2 1527.6L286.6 1527.6Z" fill="#FF0000"/>
<path d="M298.7 1525.8L306.5 1541L290.9 1541Z" fill="#ED7D31"/><path d="M298.7 1530.6L303 1538.9L294.4 1538.9Z" fill="#FF0000"/>
<path d="M296.1 1531.9L303.9 1547.1L288.3 1547.1Z" fill="#ED7D31"/><path d="M296.1 1536.6L300.4 1545L291.8 1545Z" fill="#FF0000"/>
<path d="M278.8 1531.9L286.6 1547.1L271 1547.1Z" fill="#ED7D31"/><path d="M278.8 1536.6L283.1 1545L274.5 1545Z" fill="#FF0000"/>
<path d="M312.6 1528.4L320.4 1543.6L304.8 1543.6Z" fill="#ED7D31"/><path d="M312.6 1533.2L316.9 1541.5L308.3 1541.5Z" fill="#FF0000"/>
<path d="M310 1538.9L317.8 1554.1L302.2 1554.1Z" fill="#ED7D31"/><path d="M310 1543.6L314.3 1551.9L305.7 1551.9Z" fill="#FF0000"/>
<path d="M292.6 1543.2L300.4 1558.4L284.8 1558.4Z" fill="#ED7D31"/><path d="M292.6 1547.9L296.9 1556.3L288.4 1556.3Z" fill="#FF0000"/>
<path d="M297 1547.5L304.8 1562.7L289.2 1562.7Z" fill="#ED7D31"/><path d="M297 1552.2L301.3 1560.6L292.7 1560.6Z" fill="#FF0000"/>
<path d="M360.3 1514.6L368.1 1529.8L352.5 1529.8Z" fill="#ED7D31"/><path d="M360.3 1519.3L364.6 1527.6L356 1527.6Z" fill="#FF0000"/>
<path d="M373.3 1538L381.1 1553.2L365.5 1553.2Z" fill="#ED7D31"/><path d="M373.3 1542.7L377.6 1551.1L369 1551.1Z" fill="#FF0000"/>
<path d="M395 1534.5L402.8 1549.7L387.2 1549.7Z" fill="#ED7D31"/><path d="M395 1539.2L399.3 1547.6L390.7 1547.6Z" fill="#FF0000"/>
<path d="M454.7 1453L462.5 1468.2L446.9 1468.2Z" fill="#ED7D31"/><path d="M454.7 1457.7L459 1466L450.4 1466Z" fill="#FF0000"/>
<path d="M484.7 1462.6L492.5 1477.8L476.9 1477.8Z" fill="#ED7D31"/><path d="M484.7 1467.3L489 1475.6L480.4 1475.6Z" fill="#FF0000"/>
<path d="M514.7 1476.4L522.5 1491.6L506.9 1491.6Z" fill="#ED7D31"/><path d="M514.7 1481.1L519 1489.4L510.4 1489.4Z" fill="#FF0000"/>
<path d="M477.5 1490.2L485.3 1505.4L469.7 1505.4Z" fill="#ED7D31"/><path d="M477.5 1494.9L481.8 1503.3L473.2 1503.3Z" fill="#FF0000"/>
<path d="M470.9 1490.8L478.7 1506L463.1 1506Z" fill="#ED7D31"/><path d="M470.9 1495.5L475.2 1503.9L466.6 1503.9Z" fill="#FF0000"/>
<path d="M478.7 1504.6L486.5 1519.8L470.9 1519.8Z" fill="#ED7D31"/><path d="M478.7 1509.3L483 1517.7L474.4 1517.7Z" fill="#FF0000"/>
<path d="M492.5 1501L500.3 1516.2L484.7 1516.2Z" fill="#ED7D31"/><path d="M492.5 1505.7L496.8 1514.1L488.2 1514.1Z" fill="#FF0000"/>
<path d="M503.3 1498.6L511.1 1513.8L495.5 1513.8Z" fill="#ED7D31"/><path d="M503.3 1503.3L507.6 1511.7L499 1511.7Z" fill="#FF0000"/>
<path d="M508.7 1501L516.5 1516.2L500.9 1516.2Z" fill="#ED7D31"/><path d="M508.7 1505.7L513 1514.1L504.4 1514.1Z" fill="#FF0000"/>
<path d="M494.9 1509.4L502.7 1524.6L487.1 1524.6Z" fill="#ED7D31"/><path d="M494.9 1514.1L499.2 1522.5L490.6 1522.5Z" fill="#FF0000"/>
<path d="M510.5 1514.2L518.3 1529.4L502.7 1529.4Z" fill="#ED7D31"/><path d="M510.5 1518.9L514.8 1527.3L506.2 1527.3Z" fill="#FF0000"/>
<path d="M499.7 1519L507.5 1534.2L491.9 1534.2Z" fill="#ED7D31"/><path d="M499.7 1523.7L504 1532.1L495.4 1532.1Z" fill="#FF0000"/>
<path d="M360.4 1514.2L368.2 1529.4L352.6 1529.4Z" fill="#ED7D31"/><path d="M360.4 1518.9L364.7 1527.3L356.1 1527.3Z" fill="#FF0000"/>
<path d="M460.1 1523.8L467.9 1539L452.3 1539Z" fill="#ED7D31"/><path d="M460.1 1528.5L464.4 1536.9L455.8 1536.9Z" fill="#FF0000"/>
<path d="M467.3 1525L475.1 1540.2L459.5 1540.2Z" fill="#ED7D31"/><path d="M467.3 1529.7L471.6 1538.1L463 1538.1Z" fill="#FF0000"/>
<path d="M395.8 1530.9L403.6 1546.1L388 1546.1Z" fill="#ED7D31"/><path d="M395.8 1535.6L400.1 1544L391.5 1544Z" fill="#FF0000"/>
<path d="M992 1227.6L998.4 1224.4L1006.4 1229.2L1017.6 1232.4L1020.8 1238.8L1017.6 1243.6L1019.2 1251.6L1016 1258L1019.2 1267.6L1020.8 1277.2L1017.6 1285.2L1019.2 1296.5L1023.2 1306.1L1019.2 1314.1L1017.6 1322.1L1017.6 1334.9L1021.6 1346.1L1019.2 1354.1L1021.6 1366.9L1024.8 1381.3L1024 1392.5L1024.8 1400L987.2 1400L988 1386.1L984.8 1366.9L987.2 1354.1L986.4 1341.3L987.2 1325.3L988 1309.3L985.6 1293.3L988 1282L988.8 1266L989.6 1251.6L992 1242Z" fill="#4472C4" stroke="#4472C4" stroke-width="1" stroke-linejoin="round"/>
<path d="M988.8 1390L1020.8 1390L1024 1398L1019.2 1409.2L1030.4 1422L1035.2 1434.8L1038.5 1446L1035.2 1457.2L1028.8 1470.1L1035.2 1479.7L1040.1 1466.8L1049.7 1463.6L1062.5 1473.3L1067.3 1482.9L1075.3 1489.3L1088.1 1484.5L1104.1 1484.5L1113.7 1486.1L1120.1 1489.3L1129.7 1492.5L1142.5 1486.1L1148.9 1492.5L1156.9 1494.1L1163.3 1502.1L1172.9 1510.1L1176.1 1526.1L1172.9 1542.1L1171.3 1553.3L1161.7 1556.5L1158.5 1564.5L1158.5 1578.9L1152.1 1586.9L1144.1 1580.5L1145.7 1569.3L1139.3 1562.9L1129.7 1564.5L1120.1 1561.3L1107.3 1559.7L1104.1 1567.7L1094.5 1567.7L1088.1 1558.1L1081.7 1556.5L1072.1 1554.9L1067.3 1548.5L1056.1 1550.1L1043.3 1546.9L1036.8 1543.7L1030.4 1550.1L1020.8 1551.7L1011.2 1556.5L1011.2 1564.5L1004.8 1567.7L996.8 1561.3L996.8 1551.7L1001.6 1543.7L998.4 1530.9L1003.2 1526.1L996.8 1514.9L990.4 1502.1L988.8 1486.1L987.2 1466.8L987.2 1438L987.2 1406Z" fill="#4472C4" stroke="#4472C4" stroke-width="1" stroke-linejoin="round"/>
<path d="M1022.4 1527.7L1030.4 1526.1L1038.5 1530.9L1040.1 1540.5L1033.6 1542.1L1024 1538.9Z" fill="#fff"/>
<path d="M1023.8 1297.7a7.8 7.8 0 1 0 15.6 0a7.8 7.8 0 1 0 -15.6 0M1115.2 1302.9a7.8 7.8 0 1 0 15.6 0a7.8 7.8 0 1 0 -15.6 0M1141.6 1304.1a7.8 7.8 0 1 0 15.6 0a7.8 7.8 0 1 0 -15.6 0M1083.8 1331.7a7.8 7.8 0 1 0 15.6 0a7.8 7.8 0 1 0 -15.6 0M1131.5 1333a7.8 7.8 0 1 0 15.6 0a7.8 7.8 0 1 0 -15.6 0M1141.6 1333a7.8 7.8 0 1 0 15.6 0a7.8 7.8 0 1 0 -15.6 0M1131.5 1355.4a7.8 7.8 0 1 0 15.6 0a7.8 7.8 0 1 0 -15.6 0M1141.6 1370.6a7.8 7.8 0 1 0 15.6 0a7.8 7.8 0 1 0 -15.6 0M1135.2 1394.9a7.8 7.8 0 1 0 15.6 0a7.8 7.8 0 1 0 -15.6 0" fill="#4472C4"/>
<path d="M1134.7 1395.6a7.8 7.8 0 1 0 15.6 0a7.8 7.8 0 1 0 -15.6 0M1155.5 1425.2a7.8 7.8 0 1 0 15.6 0a7.8 7.8 0 1 0 -15.6 0M1045.1 1438a7.8 7.8 0 1 0 15.6 0a7.8 7.8 0 1 0 -15.6 0M1065.9 1436.4a7.8 7.8 0 1 0 15.6 0a7.8 7.8 0 1 0 -15.6 0M1082.7 1435.6a7.8 7.8 0 1 0 15.6 0a7.8 7.8 0 1 0 -15.6 0M1096.3 1450.8a7.8 7.8 0 1 0 15.6 0a7.8 7.8 0 1 0 -15.6 0M1104.3 1457.2a7.8 7.8 0 1 0 15.6 0a7.8 7.8 0 1 0 -15.6 0M1115.5 1455.6a7.8 7.8 0 1 0 15.6 0a7.8 7.8 0 1 0 -15.6 0M1140.3 1460.4a7.8 7.8 0 1 0 15.6 0a7.8 7.8 0 1 0 -15.6 0M1140.3 1470.1a7.8 7.8 0 1 0 15.6 0a7.8 7.8 0 1 0 -15.6 0M1081.1 1465.2a7.8 7.8 0 1 0 15.6 0a7.8 7.8 0 1 0 -15.6 0M1097.9 1473.3a7.8 7.8 0 1 0 15.6 0a7.8 7.8 0 1 0 -15.6 0M1107.5 1476.5a7.8 7.8 0 1 0 15.6 0a7.8 7.8 0 1 0 -15.6 0M1134.7 1487.7a7.8 7.8 0 1 0 15.6 0a7.8 7.8 0 1 0 -15.6 0M1169.9 1470.1a7.8 7.8 0 1 0 15.6 0a7.8 7.8 0 1 0 -15.6 0M1169.9 1489.3a7.8 7.8 0 1 0 15.6 0a7.8 7.8 0 1 0 -15.6 0M1171.5 1508.5a7.8 7.8 0 1 0 15.6 0a7.8 7.8 0 1 0 -15.6 0M1150.7 1497.3a7.8 7.8 0 1 0 15.6 0a7.8 7.8 0 1 0 -15.6 0M1041.1 1454a7.8 7.8 0 1 0 15.6 0a7.8 7.8 0 1 0 -15.6 0M1046.7 1460.4a7.8 7.8 0 1 0 15.6 0a7.8 7.8 0 1 0 -15.6 0M1019.4 1545.3a7.8 7.8 0 1 0 15.6 0a7.8 7.8 0 1 0 -15.6 0M997 1561.3a7.8 7.8 0 1 0 15.6 0a7.8 7.8 0 1 0 -15.6 0M1091.5 1564.5a7.8 7.8 0 1 0 15.6 0a7.8 7.8 0 1 0 -15.6 0M1144.3 1578.9a7.8 7.8 0 1 0 15.6 0a7.8 7.8 0 1 0 -15.6 0" fill="#4472C4"/>
<path d="M1006.4 1488.2L1014.2 1503.4L998.6 1503.4Z" fill="#ED7D31"/><path d="M1006.4 1492.9L1010.7 1501.2L1002.1 1501.2Z" fill="#FF0000"/>
<path d="M1006.4 1502.6L1014.2 1517.8L998.6 1517.8Z" fill="#ED7D31"/><path d="M1006.4 1507.3L1010.7 1515.6L1002.1 1515.6Z" fill="#FF0000"/>
<path d="M1011.2 1502.6L1019 1517.8L1003.4 1517.8Z" fill="#ED7D31"/><path d="M1011.2 1507.3L1015.5 1515.6L1006.9 1515.6Z" fill="#FF0000"/>
<path d="M1011.2 1513.8L1019 1529L1003.4 1529Z" fill="#ED7D31"/><path d="M1011.2 1518.5L1015.5 1526.9L1006.9 1526.9Z" fill="#FF0000"/>
<path d="M1012.8 1521.8L1020.6 1537L1005 1537Z" fill="#ED7D31"/><path d="M1012.8 1526.5L1017.1 1534.9L1008.5 1534.9Z" fill="#FF0000"/>
<path d="M1011.2 1526.6L1019 1541.8L1003.4 1541.8Z" fill="#ED7D31"/><path d="M1011.2 1531.3L1015.5 1539.7L1006.9 1539.7Z" fill="#FF0000"/>
<path d="M1035.2 1495.4L1043 1510.6L1027.4 1510.6Z" fill="#ED7D31"/><path d="M1035.2 1500.1L1039.5 1508.4L1031 1508.4Z" fill="#FF0000"/>
<path d="M1046.5 1489.8L1054.3 1505L1038.7 1505Z" fill="#ED7D31"/><path d="M1046.5 1494.5L1050.7 1502.8L1042.2 1502.8Z" fill="#FF0000"/>
<path d="M1052.9 1473.8L1060.7 1489L1045.1 1489Z" fill="#ED7D31"/><path d="M1052.9 1478.5L1057.1 1486.8L1048.6 1486.8Z" fill="#FF0000"/>
<path d="M1060.9 1484.2L1068.7 1499.4L1053.1 1499.4Z" fill="#ED7D31"/><path d="M1060.9 1488.9L1065.2 1497.2L1056.6 1497.2Z" fill="#FF0000"/>
<path d="M1056.1 1490.6L1063.9 1505.8L1048.3 1505.8Z" fill="#ED7D31"/><path d="M1056.1 1495.3L1060.4 1503.6L1051.8 1503.6Z" fill="#FF0000"/>
<path d="M1064.1 1498.6L1071.9 1513.8L1056.3 1513.8Z" fill="#ED7D31"/><path d="M1064.1 1503.3L1068.4 1511.6L1059.8 1511.6Z" fill="#FF0000"/>
<path d="M1083.3 1505.8L1091.1 1521L1075.5 1521Z" fill="#ED7D31"/><path d="M1083.3 1510.5L1087.6 1518.8L1079 1518.8Z" fill="#FF0000"/>
<path d="M1083.3 1518.6L1091.1 1533.8L1075.5 1533.8Z" fill="#ED7D31"/><path d="M1083.3 1523.3L1087.6 1531.7L1079 1531.7Z" fill="#FF0000"/>
<path d="M1104.1 1505L1111.9 1520.2L1096.3 1520.2Z" fill="#ED7D31"/><path d="M1104.1 1509.7L1108.4 1518L1099.8 1518Z" fill="#FF0000"/>
<path d="M1102.5 1523.4L1110.3 1538.6L1094.7 1538.6Z" fill="#ED7D31"/><path d="M1102.5 1528.1L1106.8 1536.5L1098.2 1536.5Z" fill="#FF0000"/>
<path d="M1108.1 1529L1115.9 1544.2L1100.3 1544.2Z" fill="#ED7D31"/><path d="M1108.1 1533.7L1112.4 1542.1L1103.8 1542.1Z" fill="#FF0000"/>
<path d="M1114.5 1502.6L1122.3 1517.8L1106.7 1517.8Z" fill="#ED7D31"/><path d="M1114.5 1507.3L1118.8 1515.6L1110.2 1515.6Z" fill="#FF0000"/>
<path d="M1120.1 1489.8L1127.9 1505L1112.3 1505Z" fill="#ED7D31"/><path d="M1120.1 1494.5L1124.4 1502.8L1115.8 1502.8Z" fill="#FF0000"/>
<path d="M1123.3 1501.8L1131.1 1517L1115.5 1517Z" fill="#ED7D31"/><path d="M1123.3 1506.5L1127.6 1514.8L1119 1514.8Z" fill="#FF0000"/>
<path d="M1118.5 1517L1126.3 1532.2L1110.7 1532.2Z" fill="#ED7D31"/><path d="M1118.5 1521.7L1122.8 1530.1L1114.2 1530.1Z" fill="#FF0000"/>
<path d="M1128.1 1516.2L1135.9 1531.4L1120.3 1531.4Z" fill="#ED7D31"/><path d="M1128.1 1520.9L1132.4 1529.3L1123.8 1529.3Z" fill="#FF0000"/>
<path d="M1132.1 1509L1139.9 1524.2L1124.3 1524.2Z" fill="#ED7D31"/><path d="M1132.1 1513.7L1136.4 1522L1127.8 1522Z" fill="#FF0000"/>
<path d="M1135.3 1452.9L1143.1 1468.1L1127.5 1468.1Z" fill="#ED7D31"/><path d="M1135.3 1457.7L1139.6 1466L1131 1466Z" fill="#FF0000"/>
<path d="M1131.3 1463.4L1139.1 1478.6L1123.5 1478.6Z" fill="#ED7D31"/><path d="M1131.3 1468.1L1135.6 1476.4L1127 1476.4Z" fill="#FF0000"/>
<path d="M1132.9 1478.6L1140.7 1493.8L1125.1 1493.8Z" fill="#ED7D31"/><path d="M1132.9 1483.3L1137.2 1491.6L1128.6 1491.6Z" fill="#FF0000"/>
<path d="M1047.3 1528.2L1055.1 1543.4L1039.5 1543.4Z" fill="#ED7D31"/><path d="M1047.3 1532.9L1051.5 1541.3L1043 1541.3Z" fill="#FF0000"/>
<path d="M1185.2 1470.8L1193 1486L1177.4 1486Z" fill="#ED7D31"/><path d="M1185.2 1475.6L1189.5 1483.9L1180.9 1483.9Z" fill="#FF0000"/>
<path d="M1194.7 1485.6L1202.5 1500.8L1186.9 1500.8Z" fill="#ED7D31"/><path d="M1194.7 1490.3L1199 1498.7L1190.5 1498.7Z" fill="#FF0000"/>
<path d="M1190.4 1502.9L1198.2 1518.1L1182.6 1518.1Z" fill="#ED7D31"/><path d="M1190.4 1507.6L1194.7 1516L1186.1 1516Z" fill="#FF0000"/>
<path d="M1197.3 1502.9L1205.1 1518.1L1189.5 1518.1Z" fill="#ED7D31"/><path d="M1197.3 1507.6L1201.6 1516L1193.1 1516Z" fill="#FF0000"/>
<path d="M1192.1 1515.1L1199.9 1530.3L1184.3 1530.3Z" fill="#ED7D31"/><path d="M1192.1 1519.8L1196.4 1528.1L1187.9 1528.1Z" fill="#FF0000"/>
<path d="M1203.4 1514.2L1211.2 1529.4L1195.6 1529.4Z" fill="#ED7D31"/><path d="M1203.4 1518.9L1207.7 1527.3L1199.1 1527.3Z" fill="#FF0000"/>
<path d="M1195.6 1529L1203.4 1544.2L1187.8 1544.2Z" fill="#ED7D31"/><path d="M1195.6 1533.7L1199.9 1542L1191.3 1542Z" fill="#FF0000"/>
<path d="M1209.5 1527.2L1217.3 1542.4L1201.7 1542.4Z" fill="#ED7D31"/><path d="M1209.5 1531.9L1213.8 1540.3L1205.2 1540.3Z" fill="#FF0000"/>
<path d="M1189.5 1534.2L1197.3 1549.4L1181.7 1549.4Z" fill="#ED7D31"/><path d="M1189.5 1538.9L1193.8 1547.2L1185.3 1547.2Z" fill="#FF0000"/>
<path d="M1189.5 1545.4L1197.3 1560.6L1181.7 1560.6Z" fill="#ED7D31"/><path d="M1189.5 1550.1L1193.8 1558.5L1185.3 1558.5Z" fill="#FF0000"/>
<path d="M1252 1542L1259.8 1557.2L1244.2 1557.2Z" fill="#ED7D31"/><path d="M1252 1546.7L1256.3 1555L1247.7 1555Z" fill="#FF0000"/>
<path d="M1278.9 1541.1L1286.7 1556.3L1271.1 1556.3Z" fill="#ED7D31"/><path d="M1278.9 1545.8L1283.2 1554.2L1274.6 1554.2Z" fill="#FF0000"/>
<path d="M1306.3 1538.5L1314.1 1553.7L1298.5 1553.7Z" fill="#ED7D31"/><path d="M1306.3 1543.2L1310.6 1551.6L1302 1551.6Z" fill="#FF0000"/>
<path d="M1387.8 1537.3L1395.6 1552.5L1380 1552.5Z" fill="#ED7D31"/><path d="M1387.8 1542L1392.1 1550.4L1383.5 1550.4Z" fill="#FF0000"/>
<path d="M1414.2 1522L1422 1537.2L1406.4 1537.2Z" fill="#ED7D31"/><path d="M1414.2 1526.7L1418.5 1535.1L1409.9 1535.1Z" fill="#FF0000"/>
<path d="M1415 1537.6L1422.8 1552.8L1407.2 1552.8Z" fill="#ED7D31"/><path d="M1415 1542.3L1419.3 1550.7L1410.7 1550.7Z" fill="#FF0000"/>
<path d="M1410.7 1541.1L1418.5 1556.3L1402.9 1556.3Z" fill="#ED7D31"/><path d="M1410.7 1545.8L1415 1554.2L1406.4 1554.2Z" fill="#FF0000"/>
<path d="M1412.4 1548.9L1420.2 1564.1L1404.6 1564.1Z" fill="#ED7D31"/><path d="M1412.4 1553.6L1416.7 1562L1408.1 1562Z" fill="#FF0000"/>
<path d="M1409 1535.9L1416.8 1551.1L1401.2 1551.1Z" fill="#ED7D31"/><path d="M1409 1540.6L1413.3 1549L1404.7 1549Z" fill="#FF0000"/>
<path d="M98.5 11.4V464.4H704.5" fill="none" stroke="#BFBFBF" stroke-width="1.3"/>
<text x="76.5" y="472.1" class="t" text-anchor="end">80</text>
<text x="76.5" y="407.4" class="t" text-anchor="end">90</text>
<text x="76.5" y="342.7" class="t" text-anchor="end">100</text>
<text x="76.5" y="278" class="t" text-anchor="end">110</text>
<text x="76.5" y="213.2" class="t" text-anchor="end">120</text>
<text x="76.5" y="148.5" class="t" text-anchor="end">130</text>
<text x="76.5" y="83.8" class="t" text-anchor="end">140</text>
<text x="76.5" y="19.1" class="t" text-anchor="end">150</text>
<text x="99" y="503.7" class="t" text-anchor="middle">0</text>
<text x="220" y="503.7" class="t" text-anchor="middle">0.05</text>
<text x="341" y="503.7" class="t" text-anchor="middle">0.1</text>
<text x="462" y="503.7" class="t" text-anchor="middle">0.15</text>
<text x="583" y="503.7" class="t" text-anchor="middle">0.2</text>
<text x="704" y="503.7" class="t" text-anchor="middle">0.25</text>
<text x="371.2" y="545.3" class="b" textLength="61" lengthAdjust="spacingAndGlyphs">HTNP</text>
<text transform="translate(22.8 237.9) rotate(-90)" class="b" x="-20" textLength="40" lengthAdjust="spacingAndGlyphs">DTS</text>
<text x="566" y="416.8" class="r" textLength="135.4" lengthAdjust="spacingAndGlyphs">R<tspan class="sup" dy="-9">2</tspan><tspan dy="9"> = 0.8004</tspan></text>
<path d="M887 11V458.5H1495.5" fill="none" stroke="#BFBFBF" stroke-width="1.3"/>
<text x="865" y="466.2" class="t" text-anchor="end">80</text>
<text x="865" y="402.3" class="t" text-anchor="end">90</text>
<text x="865" y="338.3" class="t" text-anchor="end">100</text>
<text x="865" y="274.4" class="t" text-anchor="end">110</text>
<text x="865" y="210.5" class="t" text-anchor="end">120</text>
<text x="865" y="146.6" class="t" text-anchor="end">130</text>
<text x="865" y="82.6" class="t" text-anchor="end">140</text>
<text x="865" y="18.7" class="t" text-anchor="end">150</text>
<text x="886.5" y="498.7" class="t" text-anchor="middle">37</text>
<text x="1006.3" y="498.7" class="t" text-anchor="middle">47</text>
<text x="1126.1" y="498.7" class="t" text-anchor="middle">57</text>
<text x="1245.9" y="498.7" class="t" text-anchor="middle">67</text>
<text x="1365.7" y="498.7" class="t" text-anchor="middle">77</text>
<text x="1485.5" y="498.7" class="t" text-anchor="middle">87</text>
<text x="1170.5" y="539.3" class="b" textLength="43" lengthAdjust="spacingAndGlyphs">DTC</text>
<text transform="translate(812.3 234.8) rotate(-90)" class="b" x="-20" textLength="40" lengthAdjust="spacingAndGlyphs">DTS</text>
<text x="928" y="84" class="r" textLength="134" lengthAdjust="spacingAndGlyphs">R<tspan class="sup" dy="-9">2</tspan><tspan dy="9"> = 0.5165</tspan></text>
<path d="M92.6 615.4V1049.3H682.5" fill="none" stroke="#BFBFBF" stroke-width="1.3"/>
<text x="70.6" y="1057" class="t" text-anchor="end">80</text>
<text x="70.6" y="995" class="t" text-anchor="end">90</text>
<text x="70.6" y="933" class="t" text-anchor="end">100</text>
<text x="70.6" y="871" class="t" text-anchor="end">110</text>
<text x="70.6" y="809.1" class="t" text-anchor="end">120</text>
<text x="70.6" y="747.1" class="t" text-anchor="end">130</text>
<text x="70.6" y="685.1" class="t" text-anchor="end">140</text>
<text x="70.6" y="623.1" class="t" text-anchor="end">150</text>
<text x="93" y="1088.7" class="t" text-anchor="middle">0</text>
<text x="177.3" y="1088.7" class="t" text-anchor="middle">10</text>
<text x="261.6" y="1088.7" class="t" text-anchor="middle">20</text>
<text x="345.9" y="1088.7" class="t" text-anchor="middle">30</text>
<text x="430.1" y="1088.7" class="t" text-anchor="middle">40</text>
<text x="514.4" y="1088.7" class="t" text-anchor="middle">50</text>
<text x="598.7" y="1088.7" class="t" text-anchor="middle">60</text>
<text x="683" y="1088.7" class="t" text-anchor="middle">70</text>
<text x="373.5" y="1126.8" class="b" textLength="31" lengthAdjust="spacingAndGlyphs">GR</text>
<text transform="translate(20.8 832.3) rotate(-90)" class="b" x="-20" textLength="40" lengthAdjust="spacingAndGlyphs">DTS</text>
<text x="499.3" y="678.8" class="r" textLength="129.2" lengthAdjust="spacingAndGlyphs">R<tspan class="sup" dy="-9">2</tspan><tspan dy="9"> = 0.1769</tspan></text>
<path d="M884.2 615.4V1049.7H1462.5" fill="none" stroke="#BFBFBF" stroke-width="1.3"/>
<text x="862.2" y="1057.4" class="t" text-anchor="end">80</text>
<text x="862.2" y="995.4" class="t" text-anchor="end">90</text>
<text x="862.2" y="933.3" class="t" text-anchor="end">100</text>
<text x="862.2" y="871.3" class="t" text-anchor="end">110</text>
<text x="862.2" y="809.2" class="t" text-anchor="end">120</text>
<text x="862.2" y="747.2" class="t" text-anchor="end">130</text>
<text x="862.2" y="685.1" class="t" text-anchor="end">140</text>
<text x="862.2" y="623.1" class="t" text-anchor="end">150</text>
<text x="884.6" y="1087.7" class="t" text-anchor="middle">4250</text>
<text x="967.3" y="1087.7" class="t" text-anchor="middle">4300</text>
<text x="1050" y="1087.7" class="t" text-anchor="middle">4350</text>
<text x="1132.7" y="1087.7" class="t" text-anchor="middle">4400</text>
<text x="1215.3" y="1087.7" class="t" text-anchor="middle">4450</text>
<text x="1298" y="1087.7" class="t" text-anchor="middle">4500</text>
<text x="1380.7" y="1087.7" class="t" text-anchor="middle">4550</text>
<text x="1463.4" y="1087.7" class="t" text-anchor="middle">4600</text>
<text x="1140.5" y="1126.3" class="b" textLength="65" lengthAdjust="spacingAndGlyphs">Depth</text>
<text transform="translate(810.3 832.5) rotate(-90)" class="b" x="-20" textLength="40" lengthAdjust="spacingAndGlyphs">DTS</text>
<text x="1320.4" y="680.1" class="r" textLength="115.1" lengthAdjust="spacingAndGlyphs">R<tspan class="sup" dy="-9">2</tspan><tspan dy="9"> = 0.035</tspan></text>
<path d="M93.8 1201V1635.6H681.5" fill="none" stroke="#BFBFBF" stroke-width="1.3"/>
<text x="71.8" y="1643.3" class="t" text-anchor="end">80</text>
<text x="71.8" y="1581.2" class="t" text-anchor="end">90</text>
<text x="71.8" y="1519.1" class="t" text-anchor="end">100</text>
<text x="71.8" y="1457" class="t" text-anchor="end">110</text>
<text x="71.8" y="1395" class="t" text-anchor="end">120</text>
<text x="71.8" y="1332.9" class="t" text-anchor="end">130</text>
<text x="71.8" y="1270.8" class="t" text-anchor="end">140</text>
<text x="71.8" y="1208.7" class="t" text-anchor="end">150</text>
<text x="94.6" y="1673.5" class="t" text-anchor="middle">2</text>
<text x="241.4" y="1673.5" class="t" text-anchor="middle">2.2</text>
<text x="388.3" y="1673.5" class="t" text-anchor="middle">2.4</text>
<text x="535.1" y="1673.5" class="t" text-anchor="middle">2.6</text>
<text x="682" y="1673.5" class="t" text-anchor="middle">2.8</text>
<text x="358" y="1711.3" class="b" textLength="60" lengthAdjust="spacingAndGlyphs">RHOZ</text>
<text transform="translate(21.3 1418.3) rotate(-90)" class="b" x="-20" textLength="40" lengthAdjust="spacingAndGlyphs">DTS</text>
<text x="529.5" y="1266.3" class="r" textLength="129" lengthAdjust="spacingAndGlyphs">R<tspan class="sup" dy="-9">2</tspan><tspan dy="9"> = 0.5422</tspan></text>
<path d="M882.6 1201.6V1636.4H1472" fill="none" stroke="#BFBFBF" stroke-width="1.3"/>
<text x="860.6" y="1644.1" class="t" text-anchor="end">80</text>
<text x="860.6" y="1582" class="t" text-anchor="end">90</text>
<text x="860.6" y="1519.9" class="t" text-anchor="end">100</text>
<text x="860.6" y="1457.8" class="t" text-anchor="end">110</text>
<text x="860.6" y="1395.6" class="t" text-anchor="end">120</text>
<text x="860.6" y="1333.5" class="t" text-anchor="end">130</text>
<text x="860.6" y="1271.4" class="t" text-anchor="end">140</text>
<text x="860.6" y="1209.3" class="t" text-anchor="end">150</text>
<text x="883" y="1674.7" class="t" text-anchor="middle">4</text>
<text x="1014.5" y="1674.7" class="t" text-anchor="middle">6</text>
<text x="1146" y="1674.7" class="t" text-anchor="middle">8</text>
<text x="1277.5" y="1674.7" class="t" text-anchor="middle">10</text>
<text x="1409" y="1674.7" class="t" text-anchor="middle">12</text>
<text x="1149.2" y="1713.8" class="b" textLength="57.5" lengthAdjust="spacingAndGlyphs">HCAL</text>
<text transform="translate(809.3 1419) rotate(-90)" class="b" x="-20" textLength="40" lengthAdjust="spacingAndGlyphs">DTS</text>
<text x="1318.1" y="1267.4" class="r" textLength="129.9" lengthAdjust="spacingAndGlyphs">R<tspan class="sup" dy="-9">2</tspan><tspan dy="9"> = 0.3749</tspan></text>
</svg></body></html>
